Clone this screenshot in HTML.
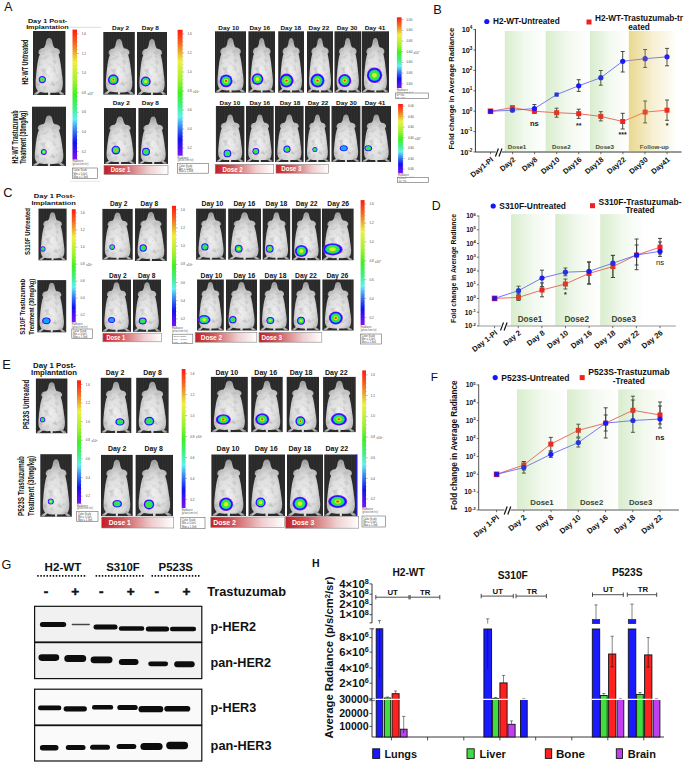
<!DOCTYPE html><html><head><meta charset="utf-8"><style>html,body{margin:0;padding:0;background:#fff;}svg{display:block;}text{font-family:"Liberation Sans",sans-serif;}</style></head><body><svg width="685" height="764" viewBox="0 0 685 764" font-family="Liberation Sans, sans-serif">
<defs>
<filter id="mb" x="-10%" y="-10%" width="120%" height="120%">
<feTurbulence type="fractalNoise" baseFrequency="0.07" numOctaves="2" seed="7" result="t"/>
<feColorMatrix in="t" type="matrix" values="0.4 0.4 0.4 0 0.38  0.4 0.4 0.4 0 0.38  0.4 0.4 0.4 0 0.38  0 0 0 0 1" result="g"/>
<feComposite in="SourceGraphic" in2="g" operator="arithmetic" k1="1" k2="0" k3="0" k4="0" result="m"/>
<feGaussianBlur in="m" stdDeviation="1.6"/></filter>
<filter id="bl" x="-30%" y="-30%" width="160%" height="160%"><feGaussianBlur stdDeviation="0.45"/></filter>
<filter id="bb" x="-10%" y="-60%" width="120%" height="220%"><feGaussianBlur stdDeviation="0.55"/></filter>
<pattern id="bgp" patternUnits="userSpaceOnUse" width="2.7" height="10"><rect width="2.7" height="10" fill="#282828"/><rect width="1.1" height="10" fill="#303030"/></pattern>
<radialGradient id="mg" cx="0.5" cy="0.62" r="0.62"><stop offset="0" stop-color="#f0f0f0"/><stop offset="0.55" stop-color="#dbdbdb"/><stop offset="0.85" stop-color="#b8b8b8"/><stop offset="1" stop-color="#9a9a9a"/></radialGradient>
<linearGradient id="cb" x1="0" y1="0" x2="0" y2="1">
<stop offset="0" stop-color="#ff1a10"/><stop offset="0.1" stop-color="#f86020"/><stop offset="0.18" stop-color="#e8b030"/><stop offset="0.25" stop-color="#f0f040"/>
<stop offset="0.4" stop-color="#a0f030"/><stop offset="0.5" stop-color="#40f020"/><stop offset="0.6" stop-color="#40f080"/><stop offset="0.69" stop-color="#60f0f0"/>
<stop offset="0.76" stop-color="#4090f0"/><stop offset="0.87" stop-color="#1010f0"/><stop offset="1" stop-color="#8010f0"/></linearGradient>
<linearGradient id="dg" x1="0" y1="0" x2="1" y2="0"><stop offset="0" stop-color="#c41e24"/><stop offset="0.3" stop-color="#d0585c"/><stop offset="0.7" stop-color="#efcfd0"/><stop offset="1" stop-color="#ffffff"/></linearGradient>
<linearGradient id="gz" x1="0" y1="0" x2="1" y2="0"><stop offset="0" stop-color="#6cb941" stop-opacity="0.26"/><stop offset="0.5" stop-color="#6cb941" stop-opacity="0.09"/><stop offset="1" stop-color="#6cb941" stop-opacity="0"/></linearGradient>
<linearGradient id="yz" x1="0" y1="0" x2="1" y2="0"><stop offset="0" stop-color="#d3b11d" stop-opacity="0.5"/><stop offset="0.5" stop-color="#d3b11d" stop-opacity="0.2"/><stop offset="1" stop-color="#d3b11d" stop-opacity="0.02"/></linearGradient>
</defs>
<rect width="685" height="764" fill="#ffffff"/>
<text x="4.3" y="11.3" font-size="12.2" font-weight="normal" text-anchor="start" fill="#111" >A</text>
<text x="47.6" y="22.5" font-size="5.8" font-weight="bold" text-anchor="middle" fill="#111" textLength="39.4" lengthAdjust="spacingAndGlyphs">Day 1 Post-</text>
<text x="47.4" y="28.8" font-size="5.8" font-weight="bold" text-anchor="middle" fill="#111" textLength="42.5" lengthAdjust="spacingAndGlyphs">Implantation</text>
<line x1="68" y1="27.3" x2="101" y2="27.3" stroke="#bbb" stroke-width="0.5"/>
<text transform="translate(27.8,62.0) rotate(-90)" font-size="8.4" font-weight="bold" text-anchor="middle" fill="#111" textLength="45" lengthAdjust="spacingAndGlyphs">H2-WT Untreated</text>
<text transform="translate(18.3,137.0) rotate(-90)" font-size="8.4" font-weight="bold" text-anchor="middle" fill="#111" textLength="53" lengthAdjust="spacingAndGlyphs">H2-WT Trastuzumab</text>
<text transform="translate(25.8,137.3) rotate(-90)" font-size="8.4" font-weight="bold" text-anchor="middle" fill="#111" textLength="53" lengthAdjust="spacingAndGlyphs">Treatment (30mg/kg)</text>
<rect x="33.0" y="31.0" width="32.4" height="64.0" fill="url(#bgp)"/><path d="M50 16 C56 16 59 22 60 30 C61 38 63 44 67 48 C76 48 84 54 83 62 C83 66 81 68 79 68 C84 86 87 108 89 130 C92 150 94 168 90 180 C89 184 87 187 85 188 L95 195 L96 199 L86 199 L78 191 C68 193 58 193 54 192 L53 200 L47 200 L46 192 C40 193 30 193 22 190 L12 199 L3 199 L5 194 L15 187 C12 183 8 176 8 165 C8 150 10 130 12 112 C14 95 16 80 21 68 C19 68 17 66 17 62 C17 54 24 48 33 48 C37 44 39 38 40 30 C41 22 44 16 50 16 Z" fill="url(#mg)" filter="url(#mb)" transform="translate(33.0,95.0) scale(0.3240,0.3096) translate(0,-200)"/><g filter="url(#bl)"><ellipse cx="42.3" cy="79.6" rx="3.60" ry="3.60" fill="#7010ff"/><ellipse cx="42.3" cy="79.6" rx="3.13" ry="3.13" fill="#1010ff"/><ellipse cx="42.3" cy="79.6" rx="2.66" ry="2.66" fill="#10a8ff"/><ellipse cx="42.3" cy="79.6" rx="2.34" ry="2.34" fill="#30e840"/><ellipse cx="42.3" cy="79.6" rx="1.15" ry="1.15" fill="#d8f020"/><ellipse cx="42.3" cy="79.6" rx="0.61" ry="0.61" fill="#ff3010"/></g>
<rect x="103.3" y="32.0" width="31.5" height="62.6" fill="url(#bgp)"/><path d="M50 16 C56 16 59 22 60 30 C61 38 63 44 67 48 C76 48 84 54 83 62 C83 66 81 68 79 68 C84 86 87 108 89 130 C92 150 94 168 90 180 C89 184 87 187 85 188 L95 195 L96 199 L86 199 L78 191 C68 193 58 193 54 192 L53 200 L47 200 L46 192 C40 193 30 193 22 190 L12 199 L3 199 L5 194 L15 187 C12 183 8 176 8 165 C8 150 10 130 12 112 C14 95 16 80 21 68 C19 68 17 66 17 62 C17 54 24 48 33 48 C37 44 39 38 40 30 C41 22 44 16 50 16 Z" fill="url(#mg)" filter="url(#mb)" transform="translate(103.3,94.6) scale(0.3150,0.3028) translate(0,-200)"/><g filter="url(#bl)"><ellipse cx="113.3" cy="79.7" rx="5.40" ry="5.40" fill="#7010ff"/><ellipse cx="113.3" cy="79.7" rx="4.70" ry="4.70" fill="#1010ff"/><ellipse cx="113.3" cy="79.7" rx="4.00" ry="4.00" fill="#10a8ff"/><ellipse cx="113.3" cy="79.7" rx="3.51" ry="3.51" fill="#30e840"/><ellipse cx="113.3" cy="79.7" rx="1.73" ry="1.73" fill="#d8f020"/><ellipse cx="113.3" cy="79.7" rx="0.92" ry="0.92" fill="#ff3010"/></g>
<rect x="137.0" y="32.0" width="30.0" height="63.0" fill="url(#bgp)"/><path d="M50 16 C56 16 59 22 60 30 C61 38 63 44 67 48 C76 48 84 54 83 62 C83 66 81 68 79 68 C84 86 87 108 89 130 C92 150 94 168 90 180 C89 184 87 187 85 188 L95 195 L96 199 L86 199 L78 191 C68 193 58 193 54 192 L53 200 L47 200 L46 192 C40 193 30 193 22 190 L12 199 L3 199 L5 194 L15 187 C12 183 8 176 8 165 C8 150 10 130 12 112 C14 95 16 80 21 68 C19 68 17 66 17 62 C17 54 24 48 33 48 C37 44 39 38 40 30 C41 22 44 16 50 16 Z" fill="url(#mg)" filter="url(#mb)" transform="translate(137.0,95.0) scale(0.3000,0.3047) translate(0,-200)"/><g filter="url(#bl)"><ellipse cx="145.7" cy="81.5" rx="5.00" ry="5.00" fill="#7010ff"/><ellipse cx="145.7" cy="81.5" rx="4.35" ry="4.35" fill="#1010ff"/><ellipse cx="145.7" cy="81.5" rx="3.70" ry="3.70" fill="#10a8ff"/><ellipse cx="145.7" cy="81.5" rx="3.25" ry="3.25" fill="#30e840"/><ellipse cx="145.7" cy="81.5" rx="1.60" ry="1.60" fill="#d8f020"/></g>
<rect x="215.0" y="31.3" width="31.0" height="61.3" fill="url(#bgp)"/><path d="M50 16 C56 16 59 22 60 30 C61 38 63 44 67 48 C76 48 84 54 83 62 C83 66 81 68 79 68 C84 86 87 108 89 130 C92 150 94 168 90 180 C89 184 87 187 85 188 L95 195 L96 199 L86 199 L78 191 C68 193 58 193 54 192 L53 200 L47 200 L46 192 C40 193 30 193 22 190 L12 199 L3 199 L5 194 L15 187 C12 183 8 176 8 165 C8 150 10 130 12 112 C14 95 16 80 21 68 C19 68 17 66 17 62 C17 54 24 48 33 48 C37 44 39 38 40 30 C41 22 44 16 50 16 Z" fill="url(#mg)" filter="url(#mb)" transform="translate(215.0,92.6) scale(0.3100,0.2965) translate(0,-200)"/><g filter="url(#bl)"><ellipse cx="226.1" cy="80.9" rx="6.40" ry="6.40" fill="#7010ff"/><ellipse cx="226.1" cy="80.9" rx="5.57" ry="5.57" fill="#1010ff"/><ellipse cx="226.1" cy="80.9" rx="4.74" ry="4.74" fill="#10a8ff"/><ellipse cx="226.1" cy="80.9" rx="4.16" ry="4.16" fill="#30e840"/><ellipse cx="226.1" cy="80.9" rx="2.05" ry="2.05" fill="#d8f020"/><ellipse cx="226.1" cy="80.9" rx="1.09" ry="1.09" fill="#ff3010"/></g>
<rect x="248.4" y="31.3" width="26.6" height="61.3" fill="url(#bgp)"/><path d="M50 16 C56 16 59 22 60 30 C61 38 63 44 67 48 C76 48 84 54 83 62 C83 66 81 68 79 68 C84 86 87 108 89 130 C92 150 94 168 90 180 C89 184 87 187 85 188 L95 195 L96 199 L86 199 L78 191 C68 193 58 193 54 192 L53 200 L47 200 L46 192 C40 193 30 193 22 190 L12 199 L3 199 L5 194 L15 187 C12 183 8 176 8 165 C8 150 10 130 12 112 C14 95 16 80 21 68 C19 68 17 66 17 62 C17 54 24 48 33 48 C37 44 39 38 40 30 C41 22 44 16 50 16 Z" fill="url(#mg)" filter="url(#mb)" transform="translate(248.4,92.6) scale(0.2660,0.2965) translate(0,-200)"/><g filter="url(#bl)"><ellipse cx="257.5" cy="79.1" rx="5.90" ry="5.90" fill="#7010ff"/><ellipse cx="257.5" cy="79.1" rx="5.13" ry="5.13" fill="#1010ff"/><ellipse cx="257.5" cy="79.1" rx="4.37" ry="4.37" fill="#10a8ff"/><ellipse cx="257.5" cy="79.1" rx="3.84" ry="3.84" fill="#30e840"/><ellipse cx="257.5" cy="79.1" rx="1.89" ry="1.89" fill="#d8f020"/></g>
<rect x="278.2" y="31.3" width="25.8" height="61.3" fill="url(#bgp)"/><path d="M50 16 C56 16 59 22 60 30 C61 38 63 44 67 48 C76 48 84 54 83 62 C83 66 81 68 79 68 C84 86 87 108 89 130 C92 150 94 168 90 180 C89 184 87 187 85 188 L95 195 L96 199 L86 199 L78 191 C68 193 58 193 54 192 L53 200 L47 200 L46 192 C40 193 30 193 22 190 L12 199 L3 199 L5 194 L15 187 C12 183 8 176 8 165 C8 150 10 130 12 112 C14 95 16 80 21 68 C19 68 17 66 17 62 C17 54 24 48 33 48 C37 44 39 38 40 30 C41 22 44 16 50 16 Z" fill="url(#mg)" filter="url(#mb)" transform="translate(278.2,92.6) scale(0.2580,0.2965) translate(0,-200)"/><g filter="url(#bl)"><ellipse cx="286.5" cy="80.6" rx="7.00" ry="7.00" fill="#7010ff"/><ellipse cx="286.5" cy="80.6" rx="6.09" ry="6.09" fill="#1010ff"/><ellipse cx="286.5" cy="80.6" rx="5.18" ry="5.18" fill="#10a8ff"/><ellipse cx="286.5" cy="80.6" rx="4.55" ry="4.55" fill="#30e840"/><ellipse cx="286.5" cy="80.6" rx="2.24" ry="2.24" fill="#d8f020"/><ellipse cx="286.5" cy="80.6" rx="1.19" ry="1.19" fill="#ff3010"/></g>
<rect x="307.0" y="31.3" width="26.0" height="61.3" fill="url(#bgp)"/><path d="M50 16 C56 16 59 22 60 30 C61 38 63 44 67 48 C76 48 84 54 83 62 C83 66 81 68 79 68 C84 86 87 108 89 130 C92 150 94 168 90 180 C89 184 87 187 85 188 L95 195 L96 199 L86 199 L78 191 C68 193 58 193 54 192 L53 200 L47 200 L46 192 C40 193 30 193 22 190 L12 199 L3 199 L5 194 L15 187 C12 183 8 176 8 165 C8 150 10 130 12 112 C14 95 16 80 21 68 C19 68 17 66 17 62 C17 54 24 48 33 48 C37 44 39 38 40 30 C41 22 44 16 50 16 Z" fill="url(#mg)" filter="url(#mb)" transform="translate(307.0,92.6) scale(0.2600,0.2965) translate(0,-200)"/><g filter="url(#bl)"><ellipse cx="317.5" cy="80.6" rx="7.00" ry="7.00" fill="#7010ff"/><ellipse cx="317.5" cy="80.6" rx="6.09" ry="6.09" fill="#1010ff"/><ellipse cx="317.5" cy="80.6" rx="5.18" ry="5.18" fill="#10a8ff"/><ellipse cx="317.5" cy="80.6" rx="4.55" ry="4.55" fill="#30e840"/><ellipse cx="317.5" cy="80.6" rx="2.24" ry="2.24" fill="#d8f020"/><ellipse cx="317.5" cy="80.6" rx="1.19" ry="1.19" fill="#ff3010"/></g>
<rect x="334.5" y="31.3" width="26.5" height="61.3" fill="url(#bgp)"/><path d="M50 16 C56 16 59 22 60 30 C61 38 63 44 67 48 C76 48 84 54 83 62 C83 66 81 68 79 68 C84 86 87 108 89 130 C92 150 94 168 90 180 C89 184 87 187 85 188 L95 195 L96 199 L86 199 L78 191 C68 193 58 193 54 192 L53 200 L47 200 L46 192 C40 193 30 193 22 190 L12 199 L3 199 L5 194 L15 187 C12 183 8 176 8 165 C8 150 10 130 12 112 C14 95 16 80 21 68 C19 68 17 66 17 62 C17 54 24 48 33 48 C37 44 39 38 40 30 C41 22 44 16 50 16 Z" fill="url(#mg)" filter="url(#mb)" transform="translate(334.5,92.6) scale(0.2650,0.2965) translate(0,-200)"/><g filter="url(#bl)"><ellipse cx="344.7" cy="80.6" rx="6.50" ry="6.50" fill="#7010ff"/><ellipse cx="344.7" cy="80.6" rx="5.66" ry="5.66" fill="#1010ff"/><ellipse cx="344.7" cy="80.6" rx="4.81" ry="4.81" fill="#10a8ff"/><ellipse cx="344.7" cy="80.6" rx="4.23" ry="4.23" fill="#30e840"/><ellipse cx="344.7" cy="80.6" rx="2.08" ry="2.08" fill="#d8f020"/><ellipse cx="344.7" cy="80.6" rx="1.10" ry="1.10" fill="#ff3010"/></g>
<rect x="361.7" y="31.3" width="27.3" height="61.3" fill="url(#bgp)"/><path d="M50 16 C56 16 59 22 60 30 C61 38 63 44 67 48 C76 48 84 54 83 62 C83 66 81 68 79 68 C84 86 87 108 89 130 C92 150 94 168 90 180 C89 184 87 187 85 188 L95 195 L96 199 L86 199 L78 191 C68 193 58 193 54 192 L53 200 L47 200 L46 192 C40 193 30 193 22 190 L12 199 L3 199 L5 194 L15 187 C12 183 8 176 8 165 C8 150 10 130 12 112 C14 95 16 80 21 68 C19 68 17 66 17 62 C17 54 24 48 33 48 C37 44 39 38 40 30 C41 22 44 16 50 16 Z" fill="url(#mg)" filter="url(#mb)" transform="translate(361.7,92.6) scale(0.2730,0.2965) translate(0,-200)"/><g filter="url(#bl)"><ellipse cx="374.5" cy="75.3" rx="7.70" ry="7.70" fill="#7010ff"/><ellipse cx="374.5" cy="75.3" rx="6.70" ry="6.70" fill="#1010ff"/><ellipse cx="374.5" cy="75.3" rx="5.70" ry="5.70" fill="#10a8ff"/><ellipse cx="374.5" cy="75.3" rx="5.00" ry="5.00" fill="#30e840"/><ellipse cx="374.5" cy="75.3" rx="2.46" ry="2.46" fill="#d8f020"/></g>
<rect x="32.0" y="106.7" width="34.0" height="59.3" fill="url(#bgp)"/><path d="M50 16 C56 16 59 22 60 30 C61 38 63 44 67 48 C76 48 84 54 83 62 C83 66 81 68 79 68 C84 86 87 108 89 130 C92 150 94 168 90 180 C89 184 87 187 85 188 L95 195 L96 199 L86 199 L78 191 C68 193 58 193 54 192 L53 200 L47 200 L46 192 C40 193 30 193 22 190 L12 199 L3 199 L5 194 L15 187 C12 183 8 176 8 165 C8 150 10 130 12 112 C14 95 16 80 21 68 C19 68 17 66 17 62 C17 54 24 48 33 48 C37 44 39 38 40 30 C41 22 44 16 50 16 Z" fill="url(#mg)" filter="url(#mb)" transform="translate(32.0,166.0) scale(0.3400,0.2739) translate(0,-200)"/><g filter="url(#bl)"><ellipse cx="43.8" cy="152.0" rx="2.90" ry="2.90" fill="#7010ff"/><ellipse cx="43.8" cy="152.0" rx="2.52" ry="2.52" fill="#1010ff"/><ellipse cx="43.8" cy="152.0" rx="2.15" ry="2.15" fill="#10a8ff"/><ellipse cx="43.8" cy="152.0" rx="1.89" ry="1.89" fill="#30e840"/><ellipse cx="43.8" cy="152.0" rx="0.93" ry="0.93" fill="#d8f020"/></g>
<rect x="104.0" y="108.0" width="32.0" height="56.0" fill="url(#bgp)"/><path d="M50 16 C56 16 59 22 60 30 C61 38 63 44 67 48 C76 48 84 54 83 62 C83 66 81 68 79 68 C84 86 87 108 89 130 C92 150 94 168 90 180 C89 184 87 187 85 188 L95 195 L96 199 L86 199 L78 191 C68 193 58 193 54 192 L53 200 L47 200 L46 192 C40 193 30 193 22 190 L12 199 L3 199 L5 194 L15 187 C12 183 8 176 8 165 C8 150 10 130 12 112 C14 95 16 80 21 68 C19 68 17 66 17 62 C17 54 24 48 33 48 C37 44 39 38 40 30 C41 22 44 16 50 16 Z" fill="url(#mg)" filter="url(#mb)" transform="translate(104.0,164.0) scale(0.3200,0.2587) translate(0,-200)"/><g filter="url(#bl)"><ellipse cx="115.9" cy="150.1" rx="4.40" ry="4.40" fill="#7010ff"/><ellipse cx="115.9" cy="150.1" rx="3.83" ry="3.83" fill="#1010ff"/><ellipse cx="115.9" cy="150.1" rx="3.26" ry="3.26" fill="#10a8ff"/><ellipse cx="115.9" cy="150.1" rx="2.86" ry="2.86" fill="#30e840"/><ellipse cx="115.9" cy="150.1" rx="1.41" ry="1.41" fill="#d8f020"/><ellipse cx="115.9" cy="150.1" rx="0.75" ry="0.75" fill="#ff3010"/></g>
<rect x="138.4" y="108.0" width="29.6" height="56.0" fill="url(#bgp)"/><path d="M50 16 C56 16 59 22 60 30 C61 38 63 44 67 48 C76 48 84 54 83 62 C83 66 81 68 79 68 C84 86 87 108 89 130 C92 150 94 168 90 180 C89 184 87 187 85 188 L95 195 L96 199 L86 199 L78 191 C68 193 58 193 54 192 L53 200 L47 200 L46 192 C40 193 30 193 22 190 L12 199 L3 199 L5 194 L15 187 C12 183 8 176 8 165 C8 150 10 130 12 112 C14 95 16 80 21 68 C19 68 17 66 17 62 C17 54 24 48 33 48 C37 44 39 38 40 30 C41 22 44 16 50 16 Z" fill="url(#mg)" filter="url(#mb)" transform="translate(138.4,164.0) scale(0.2960,0.2587) translate(0,-200)"/><g filter="url(#bl)"><ellipse cx="146.0" cy="151.7" rx="4.00" ry="4.00" fill="#7010ff"/><ellipse cx="146.0" cy="151.7" rx="3.48" ry="3.48" fill="#1010ff"/><ellipse cx="146.0" cy="151.7" rx="2.96" ry="2.96" fill="#10a8ff"/><ellipse cx="146.0" cy="151.7" rx="2.60" ry="2.60" fill="#30e840"/></g>
<rect x="215.9" y="106.0" width="28.5" height="56.0" fill="url(#bgp)"/><path d="M50 16 C56 16 59 22 60 30 C61 38 63 44 67 48 C76 48 84 54 83 62 C83 66 81 68 79 68 C84 86 87 108 89 130 C92 150 94 168 90 180 C89 184 87 187 85 188 L95 195 L96 199 L86 199 L78 191 C68 193 58 193 54 192 L53 200 L47 200 L46 192 C40 193 30 193 22 190 L12 199 L3 199 L5 194 L15 187 C12 183 8 176 8 165 C8 150 10 130 12 112 C14 95 16 80 21 68 C19 68 17 66 17 62 C17 54 24 48 33 48 C37 44 39 38 40 30 C41 22 44 16 50 16 Z" fill="url(#mg)" filter="url(#mb)" transform="translate(215.9,162.0) scale(0.2850,0.2587) translate(0,-200)"/><g filter="url(#bl)"><ellipse cx="227.4" cy="153.4" rx="3.90" ry="3.90" fill="#7010ff"/><ellipse cx="227.4" cy="153.4" rx="3.39" ry="3.39" fill="#1010ff"/><ellipse cx="227.4" cy="153.4" rx="2.89" ry="2.89" fill="#10a8ff"/><ellipse cx="227.4" cy="153.4" rx="2.54" ry="2.54" fill="#30e840"/></g>
<rect x="246.0" y="106.0" width="27.7" height="56.0" fill="url(#bgp)"/><path d="M50 16 C56 16 59 22 60 30 C61 38 63 44 67 48 C76 48 84 54 83 62 C83 66 81 68 79 68 C84 86 87 108 89 130 C92 150 94 168 90 180 C89 184 87 187 85 188 L95 195 L96 199 L86 199 L78 191 C68 193 58 193 54 192 L53 200 L47 200 L46 192 C40 193 30 193 22 190 L12 199 L3 199 L5 194 L15 187 C12 183 8 176 8 165 C8 150 10 130 12 112 C14 95 16 80 21 68 C19 68 17 66 17 62 C17 54 24 48 33 48 C37 44 39 38 40 30 C41 22 44 16 50 16 Z" fill="url(#mg)" filter="url(#mb)" transform="translate(246.0,162.0) scale(0.2770,0.2587) translate(0,-200)"/><g filter="url(#bl)"><ellipse cx="255.8" cy="151.3" rx="3.40" ry="3.40" fill="#7010ff"/><ellipse cx="255.8" cy="151.3" rx="2.96" ry="2.96" fill="#1010ff"/><ellipse cx="255.8" cy="151.3" rx="2.52" ry="2.52" fill="#10a8ff"/><ellipse cx="255.8" cy="151.3" rx="2.21" ry="2.21" fill="#30e840"/></g>
<rect x="275.0" y="106.0" width="28.6" height="56.0" fill="url(#bgp)"/><path d="M50 16 C56 16 59 22 60 30 C61 38 63 44 67 48 C76 48 84 54 83 62 C83 66 81 68 79 68 C84 86 87 108 89 130 C92 150 94 168 90 180 C89 184 87 187 85 188 L95 195 L96 199 L86 199 L78 191 C68 193 58 193 54 192 L53 200 L47 200 L46 192 C40 193 30 193 22 190 L12 199 L3 199 L5 194 L15 187 C12 183 8 176 8 165 C8 150 10 130 12 112 C14 95 16 80 21 68 C19 68 17 66 17 62 C17 54 24 48 33 48 C37 44 39 38 40 30 C41 22 44 16 50 16 Z" fill="url(#mg)" filter="url(#mb)" transform="translate(275.0,162.0) scale(0.2860,0.2587) translate(0,-200)"/><g filter="url(#bl)"><ellipse cx="287.0" cy="149.2" rx="3.60" ry="3.60" fill="#7010ff"/><ellipse cx="287.0" cy="149.2" rx="3.13" ry="3.13" fill="#1010ff"/><ellipse cx="287.0" cy="149.2" rx="2.66" ry="2.66" fill="#10a8ff"/><ellipse cx="287.0" cy="149.2" rx="2.34" ry="2.34" fill="#30e840"/></g>
<rect x="305.0" y="106.0" width="24.8" height="56.0" fill="url(#bgp)"/><path d="M50 16 C56 16 59 22 60 30 C61 38 63 44 67 48 C76 48 84 54 83 62 C83 66 81 68 79 68 C84 86 87 108 89 130 C92 150 94 168 90 180 C89 184 87 187 85 188 L95 195 L96 199 L86 199 L78 191 C68 193 58 193 54 192 L53 200 L47 200 L46 192 C40 193 30 193 22 190 L12 199 L3 199 L5 194 L15 187 C12 183 8 176 8 165 C8 150 10 130 12 112 C14 95 16 80 21 68 C19 68 17 66 17 62 C17 54 24 48 33 48 C37 44 39 38 40 30 C41 22 44 16 50 16 Z" fill="url(#mg)" filter="url(#mb)" transform="translate(305.0,162.0) scale(0.2480,0.2587) translate(0,-200)"/><g filter="url(#bl)"><ellipse cx="314.9" cy="149.6" rx="2.50" ry="2.50" fill="#7010ff"/><ellipse cx="314.9" cy="149.6" rx="2.17" ry="2.17" fill="#1010ff"/><ellipse cx="314.9" cy="149.6" rx="1.85" ry="1.85" fill="#10a8ff"/><ellipse cx="314.9" cy="149.6" rx="1.62" ry="1.62" fill="#30e840"/></g>
<rect x="331.5" y="106.0" width="28.9" height="56.0" fill="url(#bgp)"/><path d="M50 16 C56 16 59 22 60 30 C61 38 63 44 67 48 C76 48 84 54 83 62 C83 66 81 68 79 68 C84 86 87 108 89 130 C92 150 94 168 90 180 C89 184 87 187 85 188 L95 195 L96 199 L86 199 L78 191 C68 193 58 193 54 192 L53 200 L47 200 L46 192 C40 193 30 193 22 190 L12 199 L3 199 L5 194 L15 187 C12 183 8 176 8 165 C8 150 10 130 12 112 C14 95 16 80 21 68 C19 68 17 66 17 62 C17 54 24 48 33 48 C37 44 39 38 40 30 C41 22 44 16 50 16 Z" fill="url(#mg)" filter="url(#mb)" transform="translate(331.5,162.0) scale(0.2890,0.2587) translate(0,-200)"/><g filter="url(#bl)"><ellipse cx="343.8" cy="148.3" rx="4.00" ry="3.00" fill="#7010ff"/><ellipse cx="343.8" cy="148.3" rx="3.48" ry="2.61" fill="#1010ff"/><ellipse cx="343.8" cy="148.3" rx="2.96" ry="2.22" fill="#10a8ff"/></g>
<rect x="361.7" y="106.0" width="29.3" height="56.0" fill="url(#bgp)"/><path d="M50 16 C56 16 59 22 60 30 C61 38 63 44 67 48 C76 48 84 54 83 62 C83 66 81 68 79 68 C84 86 87 108 89 130 C92 150 94 168 90 180 C89 184 87 187 85 188 L95 195 L96 199 L86 199 L78 191 C68 193 58 193 54 192 L53 200 L47 200 L46 192 C40 193 30 193 22 190 L12 199 L3 199 L5 194 L15 187 C12 183 8 176 8 165 C8 150 10 130 12 112 C14 95 16 80 21 68 C19 68 17 66 17 62 C17 54 24 48 33 48 C37 44 39 38 40 30 C41 22 44 16 50 16 Z" fill="url(#mg)" filter="url(#mb)" transform="translate(361.7,162.0) scale(0.2930,0.2587) translate(0,-200)"/><g filter="url(#bl)"><ellipse cx="368.3" cy="148.3" rx="3.80" ry="3.00" fill="#7010ff"/><ellipse cx="368.3" cy="148.3" rx="3.31" ry="2.61" fill="#1010ff"/><ellipse cx="368.3" cy="148.3" rx="2.81" ry="2.22" fill="#10a8ff"/><ellipse cx="368.3" cy="148.3" rx="2.47" ry="1.95" fill="#30e840"/></g>
<text x="120.6" y="29.5" font-size="5.6" font-weight="bold" text-anchor="middle" fill="#111" textLength="17.1" lengthAdjust="spacingAndGlyphs">Day 2</text>
<text x="150.4" y="29.5" font-size="5.6" font-weight="bold" text-anchor="middle" fill="#111" textLength="17.1" lengthAdjust="spacingAndGlyphs">Day 8</text>
<text x="228.7" y="29.5" font-size="5.6" font-weight="bold" text-anchor="middle" fill="#111" textLength="20.7" lengthAdjust="spacingAndGlyphs">Day 10</text>
<text x="259.8" y="29.5" font-size="5.6" font-weight="bold" text-anchor="middle" fill="#111" textLength="20.7" lengthAdjust="spacingAndGlyphs">Day 16</text>
<text x="290.8" y="29.5" font-size="5.6" font-weight="bold" text-anchor="middle" fill="#111" textLength="20.7" lengthAdjust="spacingAndGlyphs">Day 18</text>
<text x="318.9" y="29.5" font-size="5.6" font-weight="bold" text-anchor="middle" fill="#111" textLength="20.7" lengthAdjust="spacingAndGlyphs">Day 22</text>
<text x="347.0" y="29.5" font-size="5.6" font-weight="bold" text-anchor="middle" fill="#111" textLength="20.7" lengthAdjust="spacingAndGlyphs">Day 30</text>
<text x="375.0" y="29.5" font-size="5.6" font-weight="bold" text-anchor="middle" fill="#111" textLength="20.7" lengthAdjust="spacingAndGlyphs">Day 41</text>
<text x="121.2" y="105.2" font-size="5.6" font-weight="bold" text-anchor="middle" fill="#111" textLength="17.1" lengthAdjust="spacingAndGlyphs">Day 2</text>
<text x="150.4" y="105.2" font-size="5.6" font-weight="bold" text-anchor="middle" fill="#111" textLength="17.1" lengthAdjust="spacingAndGlyphs">Day 8</text>
<text x="229.9" y="105.2" font-size="5.6" font-weight="bold" text-anchor="middle" fill="#111" textLength="20.7" lengthAdjust="spacingAndGlyphs">Day 10</text>
<text x="259.8" y="105.2" font-size="5.6" font-weight="bold" text-anchor="middle" fill="#111" textLength="20.7" lengthAdjust="spacingAndGlyphs">Day 16</text>
<text x="290.0" y="105.2" font-size="5.6" font-weight="bold" text-anchor="middle" fill="#111" textLength="20.7" lengthAdjust="spacingAndGlyphs">Day 18</text>
<text x="318.0" y="105.2" font-size="5.6" font-weight="bold" text-anchor="middle" fill="#111" textLength="20.7" lengthAdjust="spacingAndGlyphs">Day 22</text>
<text x="346.4" y="105.2" font-size="5.6" font-weight="bold" text-anchor="middle" fill="#111" textLength="20.7" lengthAdjust="spacingAndGlyphs">Day 30</text>
<text x="375.0" y="105.2" font-size="5.6" font-weight="bold" text-anchor="middle" fill="#111" textLength="20.7" lengthAdjust="spacingAndGlyphs">Day 41</text>
<rect x="72.5" y="29.6" width="4.5" height="129.9" fill="url(#cb)"/><line x1="77" y1="33.9" x2="78.6" y2="33.9" stroke="#555" stroke-width="0.45"/><text x="81.8" y="35.0" font-size="3" fill="#444">1.6</text><line x1="77" y1="37.8" x2="78" y2="37.8" stroke="#888" stroke-width="0.35"/><line x1="77" y1="41.7" x2="78" y2="41.7" stroke="#888" stroke-width="0.35"/><line x1="77" y1="45.7" x2="78" y2="45.7" stroke="#888" stroke-width="0.35"/><line x1="77" y1="49.6" x2="78" y2="49.6" stroke="#888" stroke-width="0.35"/><line x1="77" y1="53.5" x2="78.6" y2="53.5" stroke="#555" stroke-width="0.45"/><text x="81.8" y="54.6" font-size="3" fill="#444">1.2</text><line x1="77" y1="57.4" x2="78" y2="57.4" stroke="#888" stroke-width="0.35"/><line x1="77" y1="61.3" x2="78" y2="61.3" stroke="#888" stroke-width="0.35"/><line x1="77" y1="65.3" x2="78" y2="65.3" stroke="#888" stroke-width="0.35"/><line x1="77" y1="69.2" x2="78" y2="69.2" stroke="#888" stroke-width="0.35"/><line x1="77" y1="73.1" x2="78.6" y2="73.1" stroke="#555" stroke-width="0.45"/><text x="81.8" y="74.2" font-size="3" fill="#444">1.0</text><line x1="77" y1="77.0" x2="78" y2="77.0" stroke="#888" stroke-width="0.35"/><line x1="77" y1="81.0" x2="78" y2="81.0" stroke="#888" stroke-width="0.35"/><line x1="77" y1="84.9" x2="78" y2="84.9" stroke="#888" stroke-width="0.35"/><line x1="77" y1="88.8" x2="78" y2="88.8" stroke="#888" stroke-width="0.35"/><line x1="77" y1="92.7" x2="78.6" y2="92.7" stroke="#555" stroke-width="0.45"/><text x="81.8" y="93.8" font-size="3" fill="#444">0.8</text><line x1="77" y1="96.7" x2="78" y2="96.7" stroke="#888" stroke-width="0.35"/><line x1="77" y1="100.6" x2="78" y2="100.6" stroke="#888" stroke-width="0.35"/><line x1="77" y1="104.5" x2="78" y2="104.5" stroke="#888" stroke-width="0.35"/><line x1="77" y1="108.4" x2="78" y2="108.4" stroke="#888" stroke-width="0.35"/><line x1="77" y1="112.3" x2="78.6" y2="112.3" stroke="#555" stroke-width="0.45"/><text x="81.8" y="113.4" font-size="3" fill="#444">0.6</text><line x1="77" y1="116.3" x2="78" y2="116.3" stroke="#888" stroke-width="0.35"/><line x1="77" y1="120.2" x2="78" y2="120.2" stroke="#888" stroke-width="0.35"/><line x1="77" y1="124.1" x2="78" y2="124.1" stroke="#888" stroke-width="0.35"/><line x1="77" y1="128.0" x2="78" y2="128.0" stroke="#888" stroke-width="0.35"/><line x1="77" y1="132.0" x2="78.6" y2="132.0" stroke="#555" stroke-width="0.45"/><text x="81.8" y="133.1" font-size="3" fill="#444">0.4</text><line x1="77" y1="135.9" x2="78" y2="135.9" stroke="#888" stroke-width="0.35"/><line x1="77" y1="139.8" x2="78" y2="139.8" stroke="#888" stroke-width="0.35"/><line x1="77" y1="143.7" x2="78" y2="143.7" stroke="#888" stroke-width="0.35"/><line x1="77" y1="147.7" x2="78" y2="147.7" stroke="#888" stroke-width="0.35"/><line x1="77" y1="151.6" x2="78.6" y2="151.6" stroke="#555" stroke-width="0.45"/><text x="81.8" y="152.7" font-size="3" fill="#444">0.2</text><line x1="77" y1="155.5" x2="78" y2="155.5" stroke="#888" stroke-width="0.35"/><line x1="77" y1="159.4" x2="78" y2="159.4" stroke="#888" stroke-width="0.35"/><text x="87.5" y="94.5" font-size="3" fill="#444">x10<tspan dy="-1.2" font-size="2.2">7</tspan></text><text x="72.5" y="162.4" font-size="2.6" fill="#555">Radiance</text><text x="72.5" y="165.1" font-size="2.6" fill="#555">(p/sec/cm²/sr)</text><rect x="72.3" y="168" width="25.2" height="10.5" fill="#fff" stroke="#666" stroke-width="0.6"/><text x="73.5" y="171.4" font-size="2.6" fill="#444">Color Scale</text><text x="73.5" y="174.5" font-size="2.6" fill="#444">Min = 5.0e5</text><text x="73.5" y="177.7" font-size="2.6" fill="#444">Max = 1.3e6</text>
<rect x="177.6" y="29.8" width="5.0" height="125.9" fill="url(#cb)"/><line x1="182.6" y1="34.0" x2="184.2" y2="34.0" stroke="#555" stroke-width="0.45"/><text x="187.4" y="35.1" font-size="3" fill="#444">1.6</text><line x1="182.6" y1="37.8" x2="183.6" y2="37.8" stroke="#888" stroke-width="0.35"/><line x1="182.6" y1="41.6" x2="183.6" y2="41.6" stroke="#888" stroke-width="0.35"/><line x1="182.6" y1="45.4" x2="183.6" y2="45.4" stroke="#888" stroke-width="0.35"/><line x1="182.6" y1="49.2" x2="183.6" y2="49.2" stroke="#888" stroke-width="0.35"/><line x1="182.6" y1="53.0" x2="184.2" y2="53.0" stroke="#555" stroke-width="0.45"/><text x="187.4" y="54.1" font-size="3" fill="#444">1.2</text><line x1="182.6" y1="56.8" x2="183.6" y2="56.8" stroke="#888" stroke-width="0.35"/><line x1="182.6" y1="60.6" x2="183.6" y2="60.6" stroke="#888" stroke-width="0.35"/><line x1="182.6" y1="64.4" x2="183.6" y2="64.4" stroke="#888" stroke-width="0.35"/><line x1="182.6" y1="68.2" x2="183.6" y2="68.2" stroke="#888" stroke-width="0.35"/><line x1="182.6" y1="72.0" x2="184.2" y2="72.0" stroke="#555" stroke-width="0.45"/><text x="187.4" y="73.1" font-size="3" fill="#444">1.0</text><line x1="182.6" y1="75.8" x2="183.6" y2="75.8" stroke="#888" stroke-width="0.35"/><line x1="182.6" y1="79.6" x2="183.6" y2="79.6" stroke="#888" stroke-width="0.35"/><line x1="182.6" y1="83.4" x2="183.6" y2="83.4" stroke="#888" stroke-width="0.35"/><line x1="182.6" y1="87.2" x2="183.6" y2="87.2" stroke="#888" stroke-width="0.35"/><line x1="182.6" y1="91.0" x2="184.2" y2="91.0" stroke="#555" stroke-width="0.45"/><text x="187.4" y="92.1" font-size="3" fill="#444">0.8</text><line x1="182.6" y1="94.8" x2="183.6" y2="94.8" stroke="#888" stroke-width="0.35"/><line x1="182.6" y1="98.6" x2="183.6" y2="98.6" stroke="#888" stroke-width="0.35"/><line x1="182.6" y1="102.4" x2="183.6" y2="102.4" stroke="#888" stroke-width="0.35"/><line x1="182.6" y1="106.2" x2="183.6" y2="106.2" stroke="#888" stroke-width="0.35"/><line x1="182.6" y1="110.0" x2="184.2" y2="110.0" stroke="#555" stroke-width="0.45"/><text x="187.4" y="111.1" font-size="3" fill="#444">0.6</text><line x1="182.6" y1="113.8" x2="183.6" y2="113.8" stroke="#888" stroke-width="0.35"/><line x1="182.6" y1="117.6" x2="183.6" y2="117.6" stroke="#888" stroke-width="0.35"/><line x1="182.6" y1="121.4" x2="183.6" y2="121.4" stroke="#888" stroke-width="0.35"/><line x1="182.6" y1="125.2" x2="183.6" y2="125.2" stroke="#888" stroke-width="0.35"/><line x1="182.6" y1="129.0" x2="184.2" y2="129.0" stroke="#555" stroke-width="0.45"/><text x="187.4" y="130.1" font-size="3" fill="#444">0.4</text><line x1="182.6" y1="132.8" x2="183.6" y2="132.8" stroke="#888" stroke-width="0.35"/><line x1="182.6" y1="136.6" x2="183.6" y2="136.6" stroke="#888" stroke-width="0.35"/><line x1="182.6" y1="140.4" x2="183.6" y2="140.4" stroke="#888" stroke-width="0.35"/><line x1="182.6" y1="144.2" x2="183.6" y2="144.2" stroke="#888" stroke-width="0.35"/><line x1="182.6" y1="148.0" x2="184.2" y2="148.0" stroke="#555" stroke-width="0.45"/><text x="187.4" y="149.1" font-size="3" fill="#444">0.2</text><line x1="182.6" y1="151.8" x2="183.6" y2="151.8" stroke="#888" stroke-width="0.35"/><line x1="182.6" y1="155.6" x2="183.6" y2="155.6" stroke="#888" stroke-width="0.35"/><text x="193.1" y="92.8" font-size="3" fill="#444">x10<tspan dy="-1.2" font-size="2.2">7</tspan></text><text x="177.6" y="158.6" font-size="2.6" fill="#555">Radiance</text><text x="177.6" y="161.3" font-size="2.6" fill="#555">(p/sec/cm²/sr)</text><rect x="177.6" y="163.6" width="31.0" height="9.6" fill="#fff" stroke="#666" stroke-width="0.6"/><text x="178.79999999999998" y="166.7" font-size="2.6" fill="#444">Color Scale</text><text x="178.79999999999998" y="169.6" font-size="2.6" fill="#444">Min = 5.0e5</text><text x="178.79999999999998" y="172.4" font-size="2.6" fill="#444">Max = 1.3e6</text>
<rect x="396.9" y="17.3" width="4.7" height="70.7" fill="url(#cb)"/><line x1="401.6" y1="19.6" x2="403.20000000000005" y2="19.6" stroke="#555" stroke-width="0.45"/><text x="406.6" y="20.7" font-size="3" fill="#444">0.00</text><line x1="401.6" y1="21.8" x2="402.6" y2="21.8" stroke="#888" stroke-width="0.35"/><line x1="401.6" y1="23.9" x2="402.6" y2="23.9" stroke="#888" stroke-width="0.35"/><line x1="401.6" y1="26.0" x2="402.6" y2="26.0" stroke="#888" stroke-width="0.35"/><line x1="401.6" y1="28.2" x2="402.6" y2="28.2" stroke="#888" stroke-width="0.35"/><line x1="401.6" y1="30.3" x2="403.20000000000005" y2="30.3" stroke="#555" stroke-width="0.45"/><text x="406.6" y="31.4" font-size="3" fill="#444">0.60</text><line x1="401.6" y1="32.4" x2="402.6" y2="32.4" stroke="#888" stroke-width="0.35"/><line x1="401.6" y1="34.6" x2="402.6" y2="34.6" stroke="#888" stroke-width="0.35"/><line x1="401.6" y1="36.7" x2="402.6" y2="36.7" stroke="#888" stroke-width="0.35"/><line x1="401.6" y1="38.8" x2="402.6" y2="38.8" stroke="#888" stroke-width="0.35"/><line x1="401.6" y1="41.0" x2="403.20000000000005" y2="41.0" stroke="#555" stroke-width="0.45"/><text x="406.6" y="42.1" font-size="3" fill="#444">0.60</text><line x1="401.6" y1="43.1" x2="402.6" y2="43.1" stroke="#888" stroke-width="0.35"/><line x1="401.6" y1="45.3" x2="402.6" y2="45.3" stroke="#888" stroke-width="0.35"/><line x1="401.6" y1="47.4" x2="402.6" y2="47.4" stroke="#888" stroke-width="0.35"/><line x1="401.6" y1="49.5" x2="402.6" y2="49.5" stroke="#888" stroke-width="0.35"/><line x1="401.6" y1="51.7" x2="403.20000000000005" y2="51.7" stroke="#555" stroke-width="0.45"/><text x="406.6" y="52.8" font-size="3" fill="#444">0.60</text><line x1="401.6" y1="53.8" x2="402.6" y2="53.8" stroke="#888" stroke-width="0.35"/><line x1="401.6" y1="55.9" x2="402.6" y2="55.9" stroke="#888" stroke-width="0.35"/><line x1="401.6" y1="58.1" x2="402.6" y2="58.1" stroke="#888" stroke-width="0.35"/><line x1="401.6" y1="60.2" x2="402.6" y2="60.2" stroke="#888" stroke-width="0.35"/><line x1="401.6" y1="62.3" x2="403.20000000000005" y2="62.3" stroke="#555" stroke-width="0.45"/><text x="406.6" y="63.4" font-size="3" fill="#444">0.60</text><line x1="401.6" y1="64.5" x2="402.6" y2="64.5" stroke="#888" stroke-width="0.35"/><line x1="401.6" y1="66.6" x2="402.6" y2="66.6" stroke="#888" stroke-width="0.35"/><line x1="401.6" y1="68.7" x2="402.6" y2="68.7" stroke="#888" stroke-width="0.35"/><line x1="401.6" y1="70.9" x2="402.6" y2="70.9" stroke="#888" stroke-width="0.35"/><line x1="401.6" y1="73.0" x2="403.20000000000005" y2="73.0" stroke="#555" stroke-width="0.45"/><text x="406.6" y="74.1" font-size="3" fill="#444">0.60</text><line x1="401.6" y1="75.1" x2="402.6" y2="75.1" stroke="#888" stroke-width="0.35"/><line x1="401.6" y1="77.3" x2="402.6" y2="77.3" stroke="#888" stroke-width="0.35"/><line x1="401.6" y1="79.4" x2="402.6" y2="79.4" stroke="#888" stroke-width="0.35"/><line x1="401.6" y1="81.6" x2="402.6" y2="81.6" stroke="#888" stroke-width="0.35"/><line x1="401.6" y1="83.7" x2="403.20000000000005" y2="83.7" stroke="#555" stroke-width="0.45"/><text x="406.6" y="84.8" font-size="3" fill="#444">0.60</text><line x1="401.6" y1="85.8" x2="402.6" y2="85.8" stroke="#888" stroke-width="0.35"/><line x1="401.6" y1="88.0" x2="402.6" y2="88.0" stroke="#888" stroke-width="0.35"/><text x="413.6" y="53.5" font-size="3" fill="#444">x10<tspan dy="-1.2" font-size="2.2">7</tspan></text><text x="396.9" y="90.9" font-size="2.6" fill="#555">Radiance</text><text x="396.9" y="93.6" font-size="2.6" fill="#555">(p/sec/cm²/sr)</text><rect x="395.3" y="93" width="33.3" height="5.3" fill="#fff" stroke="#666" stroke-width="0.6"/><text x="396.5" y="94.7" font-size="1.5" fill="#444">Color Scale</text><text x="396.5" y="96.3" font-size="1.5" fill="#444">Min = 5.0e5</text><text x="396.5" y="97.9" font-size="1.5" fill="#444">Max = 1.3e6</text>
<rect x="398.1" y="104" width="4.8" height="69.3" fill="url(#cb)"/><line x1="402.9" y1="106.3" x2="404.5" y2="106.3" stroke="#555" stroke-width="0.45"/><text x="407.9" y="107.4" font-size="3" fill="#444">0.00</text><line x1="402.9" y1="108.4" x2="403.9" y2="108.4" stroke="#888" stroke-width="0.35"/><line x1="402.9" y1="110.5" x2="403.9" y2="110.5" stroke="#888" stroke-width="0.35"/><line x1="402.9" y1="112.6" x2="403.9" y2="112.6" stroke="#888" stroke-width="0.35"/><line x1="402.9" y1="114.7" x2="403.9" y2="114.7" stroke="#888" stroke-width="0.35"/><line x1="402.9" y1="116.8" x2="404.5" y2="116.8" stroke="#555" stroke-width="0.45"/><text x="407.9" y="117.9" font-size="3" fill="#444">0.60</text><line x1="402.9" y1="118.8" x2="403.9" y2="118.8" stroke="#888" stroke-width="0.35"/><line x1="402.9" y1="120.9" x2="403.9" y2="120.9" stroke="#888" stroke-width="0.35"/><line x1="402.9" y1="123.0" x2="403.9" y2="123.0" stroke="#888" stroke-width="0.35"/><line x1="402.9" y1="125.1" x2="403.9" y2="125.1" stroke="#888" stroke-width="0.35"/><line x1="402.9" y1="127.2" x2="404.5" y2="127.2" stroke="#555" stroke-width="0.45"/><text x="407.9" y="128.3" font-size="3" fill="#444">0.60</text><line x1="402.9" y1="129.3" x2="403.9" y2="129.3" stroke="#888" stroke-width="0.35"/><line x1="402.9" y1="131.4" x2="403.9" y2="131.4" stroke="#888" stroke-width="0.35"/><line x1="402.9" y1="133.5" x2="403.9" y2="133.5" stroke="#888" stroke-width="0.35"/><line x1="402.9" y1="135.6" x2="403.9" y2="135.6" stroke="#888" stroke-width="0.35"/><line x1="402.9" y1="137.7" x2="404.5" y2="137.7" stroke="#555" stroke-width="0.45"/><text x="407.9" y="138.8" font-size="3" fill="#444">0.60</text><line x1="402.9" y1="139.8" x2="403.9" y2="139.8" stroke="#888" stroke-width="0.35"/><line x1="402.9" y1="141.9" x2="403.9" y2="141.9" stroke="#888" stroke-width="0.35"/><line x1="402.9" y1="144.0" x2="403.9" y2="144.0" stroke="#888" stroke-width="0.35"/><line x1="402.9" y1="146.1" x2="403.9" y2="146.1" stroke="#888" stroke-width="0.35"/><line x1="402.9" y1="148.1" x2="404.5" y2="148.1" stroke="#555" stroke-width="0.45"/><text x="407.9" y="149.2" font-size="3" fill="#444">0.60</text><line x1="402.9" y1="150.2" x2="403.9" y2="150.2" stroke="#888" stroke-width="0.35"/><line x1="402.9" y1="152.3" x2="403.9" y2="152.3" stroke="#888" stroke-width="0.35"/><line x1="402.9" y1="154.4" x2="403.9" y2="154.4" stroke="#888" stroke-width="0.35"/><line x1="402.9" y1="156.5" x2="403.9" y2="156.5" stroke="#888" stroke-width="0.35"/><line x1="402.9" y1="158.6" x2="404.5" y2="158.6" stroke="#555" stroke-width="0.45"/><text x="407.9" y="159.7" font-size="3" fill="#444">0.60</text><line x1="402.9" y1="160.7" x2="403.9" y2="160.7" stroke="#888" stroke-width="0.35"/><line x1="402.9" y1="162.8" x2="403.9" y2="162.8" stroke="#888" stroke-width="0.35"/><line x1="402.9" y1="164.9" x2="403.9" y2="164.9" stroke="#888" stroke-width="0.35"/><line x1="402.9" y1="167.0" x2="403.9" y2="167.0" stroke="#888" stroke-width="0.35"/><line x1="402.9" y1="169.1" x2="404.5" y2="169.1" stroke="#555" stroke-width="0.45"/><text x="407.9" y="170.2" font-size="3" fill="#444">0.60</text><line x1="402.9" y1="171.2" x2="403.9" y2="171.2" stroke="#888" stroke-width="0.35"/><line x1="402.9" y1="173.3" x2="403.9" y2="173.3" stroke="#888" stroke-width="0.35"/><text x="414.9" y="139.5" font-size="3" fill="#444">x10<tspan dy="-1.2" font-size="2.2">7</tspan></text><text x="398.1" y="176.2" font-size="2.6" fill="#555">Radiance</text><text x="398.1" y="178.9" font-size="2.6" fill="#555">(p/sec/cm²/sr)</text><rect x="397.6" y="177.4" width="31.0" height="5.1" fill="#fff" stroke="#666" stroke-width="0.6"/><text x="398.8" y="179.0" font-size="1.4" fill="#444">Color Scale</text><text x="398.8" y="180.6" font-size="1.4" fill="#444">Min = 5.0e5</text><text x="398.8" y="182.1" font-size="1.4" fill="#444">Max = 1.3e6</text>
<line x1="70" y1="181.3" x2="100.7" y2="181.3" stroke="#ccc" stroke-width="0.5"/>
<rect x="104" y="165.3" width="64" height="9.099999999999994" fill="url(#dg)" stroke="#8a8a8a" stroke-width="0.6"/><text x="110.7" y="172.4" font-size="7" font-weight="bold" fill="#ffffff" textLength="19.6" lengthAdjust="spacingAndGlyphs">Dose 1</text>
<rect x="215.2" y="164.3" width="58.5" height="9.399999999999977" fill="url(#dg)" stroke="#8a8a8a" stroke-width="0.6"/><text x="222.5" y="171.5" font-size="7" font-weight="bold" fill="#ffffff" textLength="20.2" lengthAdjust="spacingAndGlyphs">Dose 2</text>
<rect x="276" y="164.5" width="52.60000000000002" height="8.699999999999989" fill="url(#dg)" stroke="#8a8a8a" stroke-width="0.6"/><text x="281.2" y="171.3" font-size="7" font-weight="bold" fill="#ffffff" textLength="20.2" lengthAdjust="spacingAndGlyphs">Dose 3</text>
<text x="3.2" y="196.6" font-size="12.8" font-weight="normal" text-anchor="start" fill="#111" >C</text>
<text x="54.3" y="197.9" font-size="6.2" font-weight="bold" text-anchor="middle" fill="#111" textLength="41" lengthAdjust="spacingAndGlyphs">Day 1 Post-</text>
<text x="53.7" y="205.1" font-size="6.2" font-weight="bold" text-anchor="middle" fill="#111" textLength="44.5" lengthAdjust="spacingAndGlyphs">Implantation</text>
<text transform="translate(29.9,231.6) rotate(-90)" font-size="6.96" font-weight="bold" text-anchor="middle" fill="#111" textLength="46.8" lengthAdjust="spacingAndGlyphs">S310F Untreated</text>
<text transform="translate(24.9,306.7) rotate(-90)" font-size="6.96" font-weight="bold" text-anchor="middle" fill="#111" textLength="55.9" lengthAdjust="spacingAndGlyphs">S310F Trastuzumab</text>
<text transform="translate(33.8,306.7) rotate(-90)" font-size="6.96" font-weight="bold" text-anchor="middle" fill="#111" textLength="55.9" lengthAdjust="spacingAndGlyphs">Treatment (30mg/kg)</text>
<rect x="38.5" y="208.6" width="28.1" height="51.7" fill="url(#bgp)"/><path d="M50 16 C56 16 59 22 60 30 C61 38 63 44 67 48 C76 48 84 54 83 62 C83 66 81 68 79 68 C84 86 87 108 89 130 C92 150 94 168 90 180 C89 184 87 187 85 188 L95 195 L96 199 L86 199 L78 191 C68 193 58 193 54 192 L53 200 L47 200 L46 192 C40 193 30 193 22 190 L12 199 L3 199 L5 194 L15 187 C12 183 8 176 8 165 C8 150 10 130 12 112 C14 95 16 80 21 68 C19 68 17 66 17 62 C17 54 24 48 33 48 C37 44 39 38 40 30 C41 22 44 16 50 16 Z" fill="url(#mg)" filter="url(#mb)" transform="translate(38.5,260.3) scale(0.2810,0.2613) translate(0,-200)"/><g filter="url(#bl)"><ellipse cx="42.9" cy="248.9" rx="2.60" ry="2.60" fill="#7010ff"/><ellipse cx="42.9" cy="248.9" rx="2.26" ry="2.26" fill="#1010ff"/><ellipse cx="42.9" cy="248.9" rx="1.92" ry="1.92" fill="#10a8ff"/><ellipse cx="42.9" cy="248.9" rx="1.69" ry="1.69" fill="#30e840"/></g>
<rect x="102.4" y="208.9" width="30.3" height="50.8" fill="url(#bgp)"/><path d="M50 16 C56 16 59 22 60 30 C61 38 63 44 67 48 C76 48 84 54 83 62 C83 66 81 68 79 68 C84 86 87 108 89 130 C92 150 94 168 90 180 C89 184 87 187 85 188 L95 195 L96 199 L86 199 L78 191 C68 193 58 193 54 192 L53 200 L47 200 L46 192 C40 193 30 193 22 190 L12 199 L3 199 L5 194 L15 187 C12 183 8 176 8 165 C8 150 10 130 12 112 C14 95 16 80 21 68 C19 68 17 66 17 62 C17 54 24 48 33 48 C37 44 39 38 40 30 C41 22 44 16 50 16 Z" fill="url(#mg)" filter="url(#mb)" transform="translate(102.4,259.7) scale(0.3030,0.2568) translate(0,-200)"/><g filter="url(#bl)"><ellipse cx="112.2" cy="247.1" rx="2.80" ry="2.80" fill="#7010ff"/><ellipse cx="112.2" cy="247.1" rx="2.44" ry="2.44" fill="#1010ff"/><ellipse cx="112.2" cy="247.1" rx="2.07" ry="2.07" fill="#10a8ff"/><ellipse cx="112.2" cy="247.1" rx="1.82" ry="1.82" fill="#30e840"/></g>
<rect x="135.0" y="208.4" width="31.8" height="52.6" fill="url(#bgp)"/><path d="M50 16 C56 16 59 22 60 30 C61 38 63 44 67 48 C76 48 84 54 83 62 C83 66 81 68 79 68 C84 86 87 108 89 130 C92 150 94 168 90 180 C89 184 87 187 85 188 L95 195 L96 199 L86 199 L78 191 C68 193 58 193 54 192 L53 200 L47 200 L46 192 C40 193 30 193 22 190 L12 199 L3 199 L5 194 L15 187 C12 183 8 176 8 165 C8 150 10 130 12 112 C14 95 16 80 21 68 C19 68 17 66 17 62 C17 54 24 48 33 48 C37 44 39 38 40 30 C41 22 44 16 50 16 Z" fill="url(#mg)" filter="url(#mb)" transform="translate(135.0,261.0) scale(0.3180,0.2659) translate(0,-200)"/><g filter="url(#bl)"><ellipse cx="143.2" cy="248.0" rx="3.70" ry="3.70" fill="#7010ff"/><ellipse cx="143.2" cy="248.0" rx="3.22" ry="3.22" fill="#1010ff"/><ellipse cx="143.2" cy="248.0" rx="2.74" ry="2.74" fill="#10a8ff"/><ellipse cx="143.2" cy="248.0" rx="2.41" ry="2.41" fill="#30e840"/></g>
<rect x="196.1" y="208.6" width="29.8" height="51.1" fill="url(#bgp)"/><path d="M50 16 C56 16 59 22 60 30 C61 38 63 44 67 48 C76 48 84 54 83 62 C83 66 81 68 79 68 C84 86 87 108 89 130 C92 150 94 168 90 180 C89 184 87 187 85 188 L95 195 L96 199 L86 199 L78 191 C68 193 58 193 54 192 L53 200 L47 200 L46 192 C40 193 30 193 22 190 L12 199 L3 199 L5 194 L15 187 C12 183 8 176 8 165 C8 150 10 130 12 112 C14 95 16 80 21 68 C19 68 17 66 17 62 C17 54 24 48 33 48 C37 44 39 38 40 30 C41 22 44 16 50 16 Z" fill="url(#mg)" filter="url(#mb)" transform="translate(196.1,259.7) scale(0.2980,0.2583) translate(0,-200)"/><g filter="url(#bl)"><ellipse cx="204.9" cy="246.9" rx="3.70" ry="3.70" fill="#7010ff"/><ellipse cx="204.9" cy="246.9" rx="3.22" ry="3.22" fill="#1010ff"/><ellipse cx="204.9" cy="246.9" rx="2.74" ry="2.74" fill="#10a8ff"/><ellipse cx="204.9" cy="246.9" rx="2.41" ry="2.41" fill="#30e840"/></g>
<rect x="228.2" y="208.6" width="32.8" height="51.1" fill="url(#bgp)"/><path d="M50 16 C56 16 59 22 60 30 C61 38 63 44 67 48 C76 48 84 54 83 62 C83 66 81 68 79 68 C84 86 87 108 89 130 C92 150 94 168 90 180 C89 184 87 187 85 188 L95 195 L96 199 L86 199 L78 191 C68 193 58 193 54 192 L53 200 L47 200 L46 192 C40 193 30 193 22 190 L12 199 L3 199 L5 194 L15 187 C12 183 8 176 8 165 C8 150 10 130 12 112 C14 95 16 80 21 68 C19 68 17 66 17 62 C17 54 24 48 33 48 C37 44 39 38 40 30 C41 22 44 16 50 16 Z" fill="url(#mg)" filter="url(#mb)" transform="translate(228.2,259.7) scale(0.3280,0.2583) translate(0,-200)"/><g filter="url(#bl)"><ellipse cx="238.7" cy="248.7" rx="4.00" ry="4.00" fill="#7010ff"/><ellipse cx="238.7" cy="248.7" rx="3.48" ry="3.48" fill="#1010ff"/><ellipse cx="238.7" cy="248.7" rx="2.96" ry="2.96" fill="#10a8ff"/><ellipse cx="238.7" cy="248.7" rx="2.60" ry="2.60" fill="#30e840"/><ellipse cx="238.7" cy="248.7" rx="1.28" ry="1.28" fill="#d8f020"/></g>
<rect x="262.7" y="208.6" width="27.5" height="51.1" fill="url(#bgp)"/><path d="M50 16 C56 16 59 22 60 30 C61 38 63 44 67 48 C76 48 84 54 83 62 C83 66 81 68 79 68 C84 86 87 108 89 130 C92 150 94 168 90 180 C89 184 87 187 85 188 L95 195 L96 199 L86 199 L78 191 C68 193 58 193 54 192 L53 200 L47 200 L46 192 C40 193 30 193 22 190 L12 199 L3 199 L5 194 L15 187 C12 183 8 176 8 165 C8 150 10 130 12 112 C14 95 16 80 21 68 C19 68 17 66 17 62 C17 54 24 48 33 48 C37 44 39 38 40 30 C41 22 44 16 50 16 Z" fill="url(#mg)" filter="url(#mb)" transform="translate(262.7,259.7) scale(0.2750,0.2583) translate(0,-200)"/><g filter="url(#bl)"><ellipse cx="269.7" cy="248.8" rx="4.00" ry="4.00" fill="#7010ff"/><ellipse cx="269.7" cy="248.8" rx="3.48" ry="3.48" fill="#1010ff"/><ellipse cx="269.7" cy="248.8" rx="2.96" ry="2.96" fill="#10a8ff"/><ellipse cx="269.7" cy="248.8" rx="2.60" ry="2.60" fill="#30e840"/><ellipse cx="269.7" cy="248.8" rx="1.28" ry="1.28" fill="#d8f020"/><ellipse cx="269.7" cy="248.8" rx="0.68" ry="0.68" fill="#ff3010"/></g>
<rect x="291.9" y="208.6" width="28.9" height="51.6" fill="url(#bgp)"/><path d="M50 16 C56 16 59 22 60 30 C61 38 63 44 67 48 C76 48 84 54 83 62 C83 66 81 68 79 68 C84 86 87 108 89 130 C92 150 94 168 90 180 C89 184 87 187 85 188 L95 195 L96 199 L86 199 L78 191 C68 193 58 193 54 192 L53 200 L47 200 L46 192 C40 193 30 193 22 190 L12 199 L3 199 L5 194 L15 187 C12 183 8 176 8 165 C8 150 10 130 12 112 C14 95 16 80 21 68 C19 68 17 66 17 62 C17 54 24 48 33 48 C37 44 39 38 40 30 C41 22 44 16 50 16 Z" fill="url(#mg)" filter="url(#mb)" transform="translate(291.9,260.2) scale(0.2890,0.2608) translate(0,-200)"/><g filter="url(#bl)"><ellipse cx="301.4" cy="251.0" rx="6.60" ry="6.10" fill="#7010ff"/><ellipse cx="301.4" cy="251.0" rx="5.74" ry="5.31" fill="#1010ff"/><ellipse cx="301.4" cy="251.0" rx="4.88" ry="4.51" fill="#10a8ff"/><ellipse cx="301.4" cy="251.0" rx="4.29" ry="3.96" fill="#30e840"/><ellipse cx="301.4" cy="251.0" rx="2.11" ry="1.95" fill="#d8f020"/></g>
<rect x="322.0" y="208.6" width="31.6" height="51.6" fill="url(#bgp)"/><path d="M50 16 C56 16 59 22 60 30 C61 38 63 44 67 48 C76 48 84 54 83 62 C83 66 81 68 79 68 C84 86 87 108 89 130 C92 150 94 168 90 180 C89 184 87 187 85 188 L95 195 L96 199 L86 199 L78 191 C68 193 58 193 54 192 L53 200 L47 200 L46 192 C40 193 30 193 22 190 L12 199 L3 199 L5 194 L15 187 C12 183 8 176 8 165 C8 150 10 130 12 112 C14 95 16 80 21 68 C19 68 17 66 17 62 C17 54 24 48 33 48 C37 44 39 38 40 30 C41 22 44 16 50 16 Z" fill="url(#mg)" filter="url(#mb)" transform="translate(322.0,260.2) scale(0.3160,0.2608) translate(0,-200)"/><g filter="url(#bl)"><ellipse cx="332.6" cy="249.3" rx="10.00" ry="6.10" fill="#7010ff"/><ellipse cx="332.6" cy="249.3" rx="8.70" ry="5.31" fill="#1010ff"/><ellipse cx="332.6" cy="249.3" rx="7.40" ry="4.51" fill="#10a8ff"/><ellipse cx="332.6" cy="249.3" rx="6.50" ry="3.96" fill="#30e840"/><ellipse cx="332.6" cy="249.3" rx="3.20" ry="1.95" fill="#d8f020"/></g>
<rect x="37.3" y="280.1" width="28.9" height="52.2" fill="url(#bgp)"/><path d="M50 16 C56 16 59 22 60 30 C61 38 63 44 67 48 C76 48 84 54 83 62 C83 66 81 68 79 68 C84 86 87 108 89 130 C92 150 94 168 90 180 C89 184 87 187 85 188 L95 195 L96 199 L86 199 L78 191 C68 193 58 193 54 192 L53 200 L47 200 L46 192 C40 193 30 193 22 190 L12 199 L3 199 L5 194 L15 187 C12 183 8 176 8 165 C8 150 10 130 12 112 C14 95 16 80 21 68 C19 68 17 66 17 62 C17 54 24 48 33 48 C37 44 39 38 40 30 C41 22 44 16 50 16 Z" fill="url(#mg)" filter="url(#mb)" transform="translate(37.3,332.3) scale(0.2890,0.2695) translate(0,-200)"/><g filter="url(#bl)"><ellipse cx="46.4" cy="320.8" rx="4.30" ry="3.40" fill="#7010ff"/><ellipse cx="46.4" cy="320.8" rx="3.74" ry="2.96" fill="#1010ff"/><ellipse cx="46.4" cy="320.8" rx="3.18" ry="2.52" fill="#10a8ff"/></g>
<rect x="102.0" y="279.6" width="29.0" height="52.2" fill="url(#bgp)"/><path d="M50 16 C56 16 59 22 60 30 C61 38 63 44 67 48 C76 48 84 54 83 62 C83 66 81 68 79 68 C84 86 87 108 89 130 C92 150 94 168 90 180 C89 184 87 187 85 188 L95 195 L96 199 L86 199 L78 191 C68 193 58 193 54 192 L53 200 L47 200 L46 192 C40 193 30 193 22 190 L12 199 L3 199 L5 194 L15 187 C12 183 8 176 8 165 C8 150 10 130 12 112 C14 95 16 80 21 68 C19 68 17 66 17 62 C17 54 24 48 33 48 C37 44 39 38 40 30 C41 22 44 16 50 16 Z" fill="url(#mg)" filter="url(#mb)" transform="translate(102.0,331.8) scale(0.2900,0.2695) translate(0,-200)"/><g filter="url(#bl)"><ellipse cx="111.6" cy="320.1" rx="3.50" ry="3.00" fill="#7010ff"/><ellipse cx="111.6" cy="320.1" rx="3.04" ry="2.61" fill="#1010ff"/><ellipse cx="111.6" cy="320.1" rx="2.59" ry="2.22" fill="#10a8ff"/></g>
<rect x="133.0" y="279.6" width="28.0" height="52.2" fill="url(#bgp)"/><path d="M50 16 C56 16 59 22 60 30 C61 38 63 44 67 48 C76 48 84 54 83 62 C83 66 81 68 79 68 C84 86 87 108 89 130 C92 150 94 168 90 180 C89 184 87 187 85 188 L95 195 L96 199 L86 199 L78 191 C68 193 58 193 54 192 L53 200 L47 200 L46 192 C40 193 30 193 22 190 L12 199 L3 199 L5 194 L15 187 C12 183 8 176 8 165 C8 150 10 130 12 112 C14 95 16 80 21 68 C19 68 17 66 17 62 C17 54 24 48 33 48 C37 44 39 38 40 30 C41 22 44 16 50 16 Z" fill="url(#mg)" filter="url(#mb)" transform="translate(133.0,331.8) scale(0.2800,0.2695) translate(0,-200)"/><g filter="url(#bl)"><ellipse cx="142.7" cy="321.0" rx="4.00" ry="3.40" fill="#7010ff"/><ellipse cx="142.7" cy="321.0" rx="3.48" ry="2.96" fill="#1010ff"/><ellipse cx="142.7" cy="321.0" rx="2.96" ry="2.52" fill="#10a8ff"/><ellipse cx="142.7" cy="321.0" rx="2.60" ry="2.21" fill="#30e840"/></g>
<rect x="197.0" y="279.5" width="26.8" height="51.0" fill="url(#bgp)"/><path d="M50 16 C56 16 59 22 60 30 C61 38 63 44 67 48 C76 48 84 54 83 62 C83 66 81 68 79 68 C84 86 87 108 89 130 C92 150 94 168 90 180 C89 184 87 187 85 188 L95 195 L96 199 L86 199 L78 191 C68 193 58 193 54 192 L53 200 L47 200 L46 192 C40 193 30 193 22 190 L12 199 L3 199 L5 194 L15 187 C12 183 8 176 8 165 C8 150 10 130 12 112 C14 95 16 80 21 68 C19 68 17 66 17 62 C17 54 24 48 33 48 C37 44 39 38 40 30 C41 22 44 16 50 16 Z" fill="url(#mg)" filter="url(#mb)" transform="translate(197.0,330.5) scale(0.2680,0.2633) translate(0,-200)"/><g filter="url(#bl)"><ellipse cx="204.2" cy="319.7" rx="6.30" ry="4.60" fill="#7010ff"/><ellipse cx="204.2" cy="319.7" rx="5.48" ry="4.00" fill="#1010ff"/><ellipse cx="204.2" cy="319.7" rx="4.66" ry="3.40" fill="#10a8ff"/><ellipse cx="204.2" cy="319.7" rx="4.09" ry="2.99" fill="#30e840"/><ellipse cx="204.2" cy="319.7" rx="2.02" ry="1.47" fill="#d8f020"/></g>
<rect x="226.0" y="279.5" width="31.0" height="51.0" fill="url(#bgp)"/><path d="M50 16 C56 16 59 22 60 30 C61 38 63 44 67 48 C76 48 84 54 83 62 C83 66 81 68 79 68 C84 86 87 108 89 130 C92 150 94 168 90 180 C89 184 87 187 85 188 L95 195 L96 199 L86 199 L78 191 C68 193 58 193 54 192 L53 200 L47 200 L46 192 C40 193 30 193 22 190 L12 199 L3 199 L5 194 L15 187 C12 183 8 176 8 165 C8 150 10 130 12 112 C14 95 16 80 21 68 C19 68 17 66 17 62 C17 54 24 48 33 48 C37 44 39 38 40 30 C41 22 44 16 50 16 Z" fill="url(#mg)" filter="url(#mb)" transform="translate(226.0,330.5) scale(0.3100,0.2633) translate(0,-200)"/><g filter="url(#bl)"><ellipse cx="232.9" cy="319.8" rx="3.70" ry="3.70" fill="#7010ff"/><ellipse cx="232.9" cy="319.8" rx="3.22" ry="3.22" fill="#1010ff"/><ellipse cx="232.9" cy="319.8" rx="2.74" ry="2.74" fill="#10a8ff"/><ellipse cx="232.9" cy="319.8" rx="2.41" ry="2.41" fill="#30e840"/></g>
<rect x="259.7" y="279.5" width="29.3" height="51.0" fill="url(#bgp)"/><path d="M50 16 C56 16 59 22 60 30 C61 38 63 44 67 48 C76 48 84 54 83 62 C83 66 81 68 79 68 C84 86 87 108 89 130 C92 150 94 168 90 180 C89 184 87 187 85 188 L95 195 L96 199 L86 199 L78 191 C68 193 58 193 54 192 L53 200 L47 200 L46 192 C40 193 30 193 22 190 L12 199 L3 199 L5 194 L15 187 C12 183 8 176 8 165 C8 150 10 130 12 112 C14 95 16 80 21 68 C19 68 17 66 17 62 C17 54 24 48 33 48 C37 44 39 38 40 30 C41 22 44 16 50 16 Z" fill="url(#mg)" filter="url(#mb)" transform="translate(259.7,330.5) scale(0.2930,0.2633) translate(0,-200)"/><g filter="url(#bl)"><ellipse cx="270.3" cy="320.4" rx="4.00" ry="3.50" fill="#7010ff"/><ellipse cx="270.3" cy="320.4" rx="3.48" ry="3.04" fill="#1010ff"/><ellipse cx="270.3" cy="320.4" rx="2.96" ry="2.59" fill="#10a8ff"/><ellipse cx="270.3" cy="320.4" rx="2.60" ry="2.27" fill="#30e840"/><ellipse cx="270.3" cy="320.4" rx="1.28" ry="1.12" fill="#d8f020"/></g>
<rect x="291.4" y="279.5" width="28.9" height="51.0" fill="url(#bgp)"/><path d="M50 16 C56 16 59 22 60 30 C61 38 63 44 67 48 C76 48 84 54 83 62 C83 66 81 68 79 68 C84 86 87 108 89 130 C92 150 94 168 90 180 C89 184 87 187 85 188 L95 195 L96 199 L86 199 L78 191 C68 193 58 193 54 192 L53 200 L47 200 L46 192 C40 193 30 193 22 190 L12 199 L3 199 L5 194 L15 187 C12 183 8 176 8 165 C8 150 10 130 12 112 C14 95 16 80 21 68 C19 68 17 66 17 62 C17 54 24 48 33 48 C37 44 39 38 40 30 C41 22 44 16 50 16 Z" fill="url(#mg)" filter="url(#mb)" transform="translate(291.4,330.5) scale(0.2890,0.2633) translate(0,-200)"/><g filter="url(#bl)"><ellipse cx="301.0" cy="320.7" rx="4.00" ry="4.00" fill="#7010ff"/><ellipse cx="301.0" cy="320.7" rx="3.48" ry="3.48" fill="#1010ff"/><ellipse cx="301.0" cy="320.7" rx="2.96" ry="2.96" fill="#10a8ff"/><ellipse cx="301.0" cy="320.7" rx="2.60" ry="2.60" fill="#30e840"/><ellipse cx="301.0" cy="320.7" rx="1.28" ry="1.28" fill="#d8f020"/></g>
<rect x="322.4" y="279.5" width="31.2" height="51.0" fill="url(#bgp)"/><path d="M50 16 C56 16 59 22 60 30 C61 38 63 44 67 48 C76 48 84 54 83 62 C83 66 81 68 79 68 C84 86 87 108 89 130 C92 150 94 168 90 180 C89 184 87 187 85 188 L95 195 L96 199 L86 199 L78 191 C68 193 58 193 54 192 L53 200 L47 200 L46 192 C40 193 30 193 22 190 L12 199 L3 199 L5 194 L15 187 C12 183 8 176 8 165 C8 150 10 130 12 112 C14 95 16 80 21 68 C19 68 17 66 17 62 C17 54 24 48 33 48 C37 44 39 38 40 30 C41 22 44 16 50 16 Z" fill="url(#mg)" filter="url(#mb)" transform="translate(322.4,330.5) scale(0.3120,0.2633) translate(0,-200)"/><g filter="url(#bl)"><ellipse cx="335.8" cy="318.0" rx="7.00" ry="6.50" fill="#7010ff"/><ellipse cx="335.8" cy="318.0" rx="6.09" ry="5.66" fill="#1010ff"/><ellipse cx="335.8" cy="318.0" rx="5.18" ry="4.81" fill="#10a8ff"/><ellipse cx="335.8" cy="318.0" rx="4.55" ry="4.23" fill="#30e840"/><ellipse cx="335.8" cy="318.0" rx="2.24" ry="2.08" fill="#d8f020"/><ellipse cx="335.8" cy="318.0" rx="1.19" ry="1.10" fill="#ff3010"/></g>
<text x="118.7" y="206.0" font-size="6.3" font-weight="bold" text-anchor="middle" fill="#111" textLength="17.5" lengthAdjust="spacingAndGlyphs">Day 2</text>
<text x="149.3" y="206.0" font-size="6.3" font-weight="bold" text-anchor="middle" fill="#111" textLength="17.5" lengthAdjust="spacingAndGlyphs">Day 8</text>
<text x="212.4" y="206.0" font-size="6.3" font-weight="bold" text-anchor="middle" fill="#111" textLength="21.8" lengthAdjust="spacingAndGlyphs">Day 10</text>
<text x="244.3" y="206.0" font-size="6.3" font-weight="bold" text-anchor="middle" fill="#111" textLength="21.8" lengthAdjust="spacingAndGlyphs">Day 16</text>
<text x="276.4" y="206.0" font-size="6.3" font-weight="bold" text-anchor="middle" fill="#111" textLength="21.8" lengthAdjust="spacingAndGlyphs">Day 18</text>
<text x="306.6" y="206.0" font-size="6.3" font-weight="bold" text-anchor="middle" fill="#111" textLength="21.8" lengthAdjust="spacingAndGlyphs">Day 22</text>
<text x="338.2" y="206.0" font-size="6.3" font-weight="bold" text-anchor="middle" fill="#111" textLength="21.8" lengthAdjust="spacingAndGlyphs">Day 26</text>
<text x="117.8" y="277.8" font-size="6.3" font-weight="bold" text-anchor="middle" fill="#111" textLength="17.5" lengthAdjust="spacingAndGlyphs">Day 2</text>
<text x="146.7" y="277.8" font-size="6.3" font-weight="bold" text-anchor="middle" fill="#111" textLength="17.5" lengthAdjust="spacingAndGlyphs">Day 8</text>
<text x="211.4" y="277.8" font-size="6.3" font-weight="bold" text-anchor="middle" fill="#111" textLength="21.8" lengthAdjust="spacingAndGlyphs">Day 10</text>
<text x="244.3" y="277.8" font-size="6.3" font-weight="bold" text-anchor="middle" fill="#111" textLength="21.8" lengthAdjust="spacingAndGlyphs">Day 16</text>
<text x="275.5" y="277.8" font-size="6.3" font-weight="bold" text-anchor="middle" fill="#111" textLength="21.8" lengthAdjust="spacingAndGlyphs">Day 18</text>
<text x="305.9" y="277.8" font-size="6.3" font-weight="bold" text-anchor="middle" fill="#111" textLength="21.8" lengthAdjust="spacingAndGlyphs">Day 22</text>
<text x="337.3" y="277.8" font-size="6.3" font-weight="bold" text-anchor="middle" fill="#111" textLength="21.8" lengthAdjust="spacingAndGlyphs">Day 26</text>
<rect x="71.8" y="209.2" width="3.9" height="113.0" fill="url(#cb)"/><line x1="75.7" y1="212.9" x2="77.3" y2="212.9" stroke="#555" stroke-width="0.45"/><text x="80.5" y="214.0" font-size="3" fill="#444">1.6</text><line x1="75.7" y1="216.3" x2="76.7" y2="216.3" stroke="#888" stroke-width="0.35"/><line x1="75.7" y1="219.8" x2="76.7" y2="219.8" stroke="#888" stroke-width="0.35"/><line x1="75.7" y1="223.2" x2="76.7" y2="223.2" stroke="#888" stroke-width="0.35"/><line x1="75.7" y1="226.6" x2="76.7" y2="226.6" stroke="#888" stroke-width="0.35"/><line x1="75.7" y1="230.0" x2="77.3" y2="230.0" stroke="#555" stroke-width="0.45"/><text x="80.5" y="231.1" font-size="3" fill="#444">1.2</text><line x1="75.7" y1="233.4" x2="76.7" y2="233.4" stroke="#888" stroke-width="0.35"/><line x1="75.7" y1="236.8" x2="76.7" y2="236.8" stroke="#888" stroke-width="0.35"/><line x1="75.7" y1="240.2" x2="76.7" y2="240.2" stroke="#888" stroke-width="0.35"/><line x1="75.7" y1="243.6" x2="76.7" y2="243.6" stroke="#888" stroke-width="0.35"/><line x1="75.7" y1="247.1" x2="77.3" y2="247.1" stroke="#555" stroke-width="0.45"/><text x="80.5" y="248.2" font-size="3" fill="#444">1.0</text><line x1="75.7" y1="250.5" x2="76.7" y2="250.5" stroke="#888" stroke-width="0.35"/><line x1="75.7" y1="253.9" x2="76.7" y2="253.9" stroke="#888" stroke-width="0.35"/><line x1="75.7" y1="257.3" x2="76.7" y2="257.3" stroke="#888" stroke-width="0.35"/><line x1="75.7" y1="260.7" x2="76.7" y2="260.7" stroke="#888" stroke-width="0.35"/><line x1="75.7" y1="264.1" x2="77.3" y2="264.1" stroke="#555" stroke-width="0.45"/><text x="80.5" y="265.2" font-size="3" fill="#444">0.8</text><line x1="75.7" y1="267.5" x2="76.7" y2="267.5" stroke="#888" stroke-width="0.35"/><line x1="75.7" y1="270.9" x2="76.7" y2="270.9" stroke="#888" stroke-width="0.35"/><line x1="75.7" y1="274.4" x2="76.7" y2="274.4" stroke="#888" stroke-width="0.35"/><line x1="75.7" y1="277.8" x2="76.7" y2="277.8" stroke="#888" stroke-width="0.35"/><line x1="75.7" y1="281.2" x2="77.3" y2="281.2" stroke="#555" stroke-width="0.45"/><text x="80.5" y="282.3" font-size="3" fill="#444">0.6</text><line x1="75.7" y1="284.6" x2="76.7" y2="284.6" stroke="#888" stroke-width="0.35"/><line x1="75.7" y1="288.0" x2="76.7" y2="288.0" stroke="#888" stroke-width="0.35"/><line x1="75.7" y1="291.4" x2="76.7" y2="291.4" stroke="#888" stroke-width="0.35"/><line x1="75.7" y1="294.8" x2="76.7" y2="294.8" stroke="#888" stroke-width="0.35"/><line x1="75.7" y1="298.2" x2="77.3" y2="298.2" stroke="#555" stroke-width="0.45"/><text x="80.5" y="299.3" font-size="3" fill="#444">0.4</text><line x1="75.7" y1="301.7" x2="76.7" y2="301.7" stroke="#888" stroke-width="0.35"/><line x1="75.7" y1="305.1" x2="76.7" y2="305.1" stroke="#888" stroke-width="0.35"/><line x1="75.7" y1="308.5" x2="76.7" y2="308.5" stroke="#888" stroke-width="0.35"/><line x1="75.7" y1="311.9" x2="76.7" y2="311.9" stroke="#888" stroke-width="0.35"/><line x1="75.7" y1="315.3" x2="77.3" y2="315.3" stroke="#555" stroke-width="0.45"/><text x="80.5" y="316.4" font-size="3" fill="#444">0.2</text><line x1="75.7" y1="318.7" x2="76.7" y2="318.7" stroke="#888" stroke-width="0.35"/><line x1="75.7" y1="322.1" x2="76.7" y2="322.1" stroke="#888" stroke-width="0.35"/><text x="86.2" y="265.9" font-size="3" fill="#444">x10<tspan dy="-1.2" font-size="2.2">7</tspan></text><text x="71.8" y="325.1" font-size="2.6" fill="#555">Radiance</text><text x="71.8" y="327.8" font-size="2.6" fill="#555">(p/sec/cm²/sr)</text><rect x="71.8" y="329" width="20.7" height="9.5" fill="#fff" stroke="#666" stroke-width="0.6"/><text x="73.0" y="332.0" font-size="2.6" fill="#444">Color Scale</text><text x="73.0" y="334.9" font-size="2.6" fill="#444">Min = 5.0e5</text><text x="73.0" y="337.7" font-size="2.6" fill="#444">Max = 1.3e6</text>
<rect x="172" y="205.8" width="4.0" height="120.4" fill="url(#cb)"/><line x1="176" y1="209.8" x2="177.6" y2="209.8" stroke="#555" stroke-width="0.45"/><text x="180.8" y="210.9" font-size="3" fill="#444">1.6</text><line x1="176" y1="213.4" x2="177" y2="213.4" stroke="#888" stroke-width="0.35"/><line x1="176" y1="217.0" x2="177" y2="217.0" stroke="#888" stroke-width="0.35"/><line x1="176" y1="220.7" x2="177" y2="220.7" stroke="#888" stroke-width="0.35"/><line x1="176" y1="224.3" x2="177" y2="224.3" stroke="#888" stroke-width="0.35"/><line x1="176" y1="228.0" x2="177.6" y2="228.0" stroke="#555" stroke-width="0.45"/><text x="180.8" y="229.1" font-size="3" fill="#444">1.2</text><line x1="176" y1="231.6" x2="177" y2="231.6" stroke="#888" stroke-width="0.35"/><line x1="176" y1="235.2" x2="177" y2="235.2" stroke="#888" stroke-width="0.35"/><line x1="176" y1="238.9" x2="177" y2="238.9" stroke="#888" stroke-width="0.35"/><line x1="176" y1="242.5" x2="177" y2="242.5" stroke="#888" stroke-width="0.35"/><line x1="176" y1="246.1" x2="177.6" y2="246.1" stroke="#555" stroke-width="0.45"/><text x="180.8" y="247.2" font-size="3" fill="#444">1.0</text><line x1="176" y1="249.8" x2="177" y2="249.8" stroke="#888" stroke-width="0.35"/><line x1="176" y1="253.4" x2="177" y2="253.4" stroke="#888" stroke-width="0.35"/><line x1="176" y1="257.0" x2="177" y2="257.0" stroke="#888" stroke-width="0.35"/><line x1="176" y1="260.7" x2="177" y2="260.7" stroke="#888" stroke-width="0.35"/><line x1="176" y1="264.3" x2="177.6" y2="264.3" stroke="#555" stroke-width="0.45"/><text x="180.8" y="265.4" font-size="3" fill="#444">0.8</text><line x1="176" y1="268.0" x2="177" y2="268.0" stroke="#888" stroke-width="0.35"/><line x1="176" y1="271.6" x2="177" y2="271.6" stroke="#888" stroke-width="0.35"/><line x1="176" y1="275.2" x2="177" y2="275.2" stroke="#888" stroke-width="0.35"/><line x1="176" y1="278.9" x2="177" y2="278.9" stroke="#888" stroke-width="0.35"/><line x1="176" y1="282.5" x2="177.6" y2="282.5" stroke="#555" stroke-width="0.45"/><text x="180.8" y="283.6" font-size="3" fill="#444">0.6</text><line x1="176" y1="286.1" x2="177" y2="286.1" stroke="#888" stroke-width="0.35"/><line x1="176" y1="289.8" x2="177" y2="289.8" stroke="#888" stroke-width="0.35"/><line x1="176" y1="293.4" x2="177" y2="293.4" stroke="#888" stroke-width="0.35"/><line x1="176" y1="297.0" x2="177" y2="297.0" stroke="#888" stroke-width="0.35"/><line x1="176" y1="300.7" x2="177.6" y2="300.7" stroke="#555" stroke-width="0.45"/><text x="180.8" y="301.8" font-size="3" fill="#444">0.4</text><line x1="176" y1="304.3" x2="177" y2="304.3" stroke="#888" stroke-width="0.35"/><line x1="176" y1="307.9" x2="177" y2="307.9" stroke="#888" stroke-width="0.35"/><line x1="176" y1="311.6" x2="177" y2="311.6" stroke="#888" stroke-width="0.35"/><line x1="176" y1="315.2" x2="177" y2="315.2" stroke="#888" stroke-width="0.35"/><line x1="176" y1="318.9" x2="177.6" y2="318.9" stroke="#555" stroke-width="0.45"/><text x="180.8" y="320.0" font-size="3" fill="#444">0.2</text><line x1="176" y1="322.5" x2="177" y2="322.5" stroke="#888" stroke-width="0.35"/><line x1="176" y1="326.1" x2="177" y2="326.1" stroke="#888" stroke-width="0.35"/><text x="186.5" y="266.1" font-size="3" fill="#444">x10<tspan dy="-1.2" font-size="2.2">7</tspan></text><text x="172" y="329.1" font-size="2.6" fill="#555">Radiance</text><text x="172" y="331.8" font-size="2.6" fill="#555">(p/sec/cm²/sr)</text><rect x="172.3" y="334.2" width="20.5" height="9.1" fill="#fff" stroke="#666" stroke-width="0.6"/><text x="173.5" y="337.1" font-size="2.5" fill="#444">Color Scale</text><text x="173.5" y="339.8" font-size="2.5" fill="#444">Min = 5.0e5</text><text x="173.5" y="342.6" font-size="2.5" fill="#444">Max = 1.3e6</text>
<rect x="360.6" y="200.1" width="4.0" height="124.9" fill="url(#cb)"/><line x1="364.6" y1="204.2" x2="366.20000000000005" y2="204.2" stroke="#555" stroke-width="0.45"/><text x="369.40000000000003" y="205.3" font-size="3" fill="#444">1.6</text><line x1="364.6" y1="208.0" x2="365.6" y2="208.0" stroke="#888" stroke-width="0.35"/><line x1="364.6" y1="211.8" x2="365.6" y2="211.8" stroke="#888" stroke-width="0.35"/><line x1="364.6" y1="215.5" x2="365.6" y2="215.5" stroke="#888" stroke-width="0.35"/><line x1="364.6" y1="219.3" x2="365.6" y2="219.3" stroke="#888" stroke-width="0.35"/><line x1="364.6" y1="223.1" x2="366.20000000000005" y2="223.1" stroke="#555" stroke-width="0.45"/><text x="369.40000000000003" y="224.2" font-size="3" fill="#444">1.2</text><line x1="364.6" y1="226.9" x2="365.6" y2="226.9" stroke="#888" stroke-width="0.35"/><line x1="364.6" y1="230.6" x2="365.6" y2="230.6" stroke="#888" stroke-width="0.35"/><line x1="364.6" y1="234.4" x2="365.6" y2="234.4" stroke="#888" stroke-width="0.35"/><line x1="364.6" y1="238.2" x2="365.6" y2="238.2" stroke="#888" stroke-width="0.35"/><line x1="364.6" y1="241.9" x2="366.20000000000005" y2="241.9" stroke="#555" stroke-width="0.45"/><text x="369.40000000000003" y="243.0" font-size="3" fill="#444">1.0</text><line x1="364.6" y1="245.7" x2="365.6" y2="245.7" stroke="#888" stroke-width="0.35"/><line x1="364.6" y1="249.5" x2="365.6" y2="249.5" stroke="#888" stroke-width="0.35"/><line x1="364.6" y1="253.3" x2="365.6" y2="253.3" stroke="#888" stroke-width="0.35"/><line x1="364.6" y1="257.0" x2="365.6" y2="257.0" stroke="#888" stroke-width="0.35"/><line x1="364.6" y1="260.8" x2="366.20000000000005" y2="260.8" stroke="#555" stroke-width="0.45"/><text x="369.40000000000003" y="261.9" font-size="3" fill="#444">0.8</text><line x1="364.6" y1="264.6" x2="365.6" y2="264.6" stroke="#888" stroke-width="0.35"/><line x1="364.6" y1="268.3" x2="365.6" y2="268.3" stroke="#888" stroke-width="0.35"/><line x1="364.6" y1="272.1" x2="365.6" y2="272.1" stroke="#888" stroke-width="0.35"/><line x1="364.6" y1="275.9" x2="365.6" y2="275.9" stroke="#888" stroke-width="0.35"/><line x1="364.6" y1="279.7" x2="366.20000000000005" y2="279.7" stroke="#555" stroke-width="0.45"/><text x="369.40000000000003" y="280.8" font-size="3" fill="#444">0.6</text><line x1="364.6" y1="283.4" x2="365.6" y2="283.4" stroke="#888" stroke-width="0.35"/><line x1="364.6" y1="287.2" x2="365.6" y2="287.2" stroke="#888" stroke-width="0.35"/><line x1="364.6" y1="291.0" x2="365.6" y2="291.0" stroke="#888" stroke-width="0.35"/><line x1="364.6" y1="294.7" x2="365.6" y2="294.7" stroke="#888" stroke-width="0.35"/><line x1="364.6" y1="298.5" x2="366.20000000000005" y2="298.5" stroke="#555" stroke-width="0.45"/><text x="369.40000000000003" y="299.6" font-size="3" fill="#444">0.4</text><line x1="364.6" y1="302.3" x2="365.6" y2="302.3" stroke="#888" stroke-width="0.35"/><line x1="364.6" y1="306.1" x2="365.6" y2="306.1" stroke="#888" stroke-width="0.35"/><line x1="364.6" y1="309.8" x2="365.6" y2="309.8" stroke="#888" stroke-width="0.35"/><line x1="364.6" y1="313.6" x2="365.6" y2="313.6" stroke="#888" stroke-width="0.35"/><line x1="364.6" y1="317.4" x2="366.20000000000005" y2="317.4" stroke="#555" stroke-width="0.45"/><text x="369.40000000000003" y="318.5" font-size="3" fill="#444">0.2</text><line x1="364.6" y1="321.2" x2="365.6" y2="321.2" stroke="#888" stroke-width="0.35"/><line x1="364.6" y1="324.9" x2="365.6" y2="324.9" stroke="#888" stroke-width="0.35"/><text x="375.1" y="262.6" font-size="3" fill="#444">x10<tspan dy="-1.2" font-size="2.2">7</tspan></text><text x="360.6" y="327.9" font-size="2.6" fill="#555">Radiance</text><text x="360.6" y="330.6" font-size="2.6" fill="#555">(p/sec/cm²/sr)</text><rect x="360.4" y="334" width="21.3" height="10.0" fill="#fff" stroke="#666" stroke-width="0.6"/><text x="361.59999999999997" y="337.2" font-size="2.6" fill="#444">Color Scale</text><text x="361.59999999999997" y="340.2" font-size="2.6" fill="#444">Min = 5.0e5</text><text x="361.59999999999997" y="343.2" font-size="2.6" fill="#444">Max = 1.3e6</text>
<rect x="102.9" y="333.2" width="58.69999999999999" height="8.600000000000023" fill="url(#dg)" stroke="#8a8a8a" stroke-width="0.6"/><text x="106.4" y="340.0" font-size="7" font-weight="bold" fill="#ffffff" textLength="18.8" lengthAdjust="spacingAndGlyphs">Dose 1</text>
<rect x="195.2" y="332.3" width="61.60000000000002" height="9.899999999999977" fill="url(#dg)" stroke="#8a8a8a" stroke-width="0.6"/><text x="200.7" y="339.8" font-size="7" font-weight="bold" fill="#ffffff" textLength="21.5" lengthAdjust="spacingAndGlyphs">Dose 2</text>
<rect x="259" y="332.3" width="62.80000000000001" height="9.899999999999977" fill="url(#dg)" stroke="#8a8a8a" stroke-width="0.6"/><text x="261.4" y="339.8" font-size="7" font-weight="bold" fill="#ffffff" textLength="20.6" lengthAdjust="spacingAndGlyphs">Dose 3</text>
<text x="2.2" y="368.9" font-size="12.8" font-weight="normal" text-anchor="start" fill="#111" >E</text>
<text x="54.3" y="367.7" font-size="6.3" font-weight="bold" text-anchor="middle" fill="#111" textLength="42.6" lengthAdjust="spacingAndGlyphs">Day 1 Post-</text>
<text x="54.0" y="375.2" font-size="6.3" font-weight="bold" text-anchor="middle" fill="#111" textLength="46" lengthAdjust="spacingAndGlyphs">Implantation</text>
<text transform="translate(29.2,404.5) rotate(-90)" font-size="8.4" font-weight="bold" text-anchor="middle" fill="#111" textLength="49.5" lengthAdjust="spacingAndGlyphs">P523S Untreated</text>
<text transform="translate(24.0,486.0) rotate(-90)" font-size="8.4" font-weight="bold" text-anchor="middle" fill="#111" textLength="60" lengthAdjust="spacingAndGlyphs">P523S Trastuzumab</text>
<text transform="translate(33.6,486.0) rotate(-90)" font-size="8.4" font-weight="bold" text-anchor="middle" fill="#111" textLength="60" lengthAdjust="spacingAndGlyphs">Treatment (30mg/kg)</text>
<rect x="35.9" y="378.5" width="31.5" height="54.7" fill="url(#bgp)"/><path d="M50 16 C56 16 59 22 60 30 C61 38 63 44 67 48 C76 48 84 54 83 62 C83 66 81 68 79 68 C84 86 87 108 89 130 C92 150 94 168 90 180 C89 184 87 187 85 188 L95 195 L96 199 L86 199 L78 191 C68 193 58 193 54 192 L53 200 L47 200 L46 192 C40 193 30 193 22 190 L12 199 L3 199 L5 194 L15 187 C12 183 8 176 8 165 C8 150 10 130 12 112 C14 95 16 80 21 68 C19 68 17 66 17 62 C17 54 24 48 33 48 C37 44 39 38 40 30 C41 22 44 16 50 16 Z" fill="url(#mg)" filter="url(#mb)" transform="translate(35.9,433.2) scale(0.3150,0.2765) translate(0,-200)"/><g filter="url(#bl)"><ellipse cx="42.6" cy="419.7" rx="2.60" ry="2.60" fill="#7010ff"/><ellipse cx="42.6" cy="419.7" rx="2.26" ry="2.26" fill="#1010ff"/><ellipse cx="42.6" cy="419.7" rx="1.92" ry="1.92" fill="#10a8ff"/><ellipse cx="42.6" cy="419.7" rx="1.69" ry="1.69" fill="#30e840"/></g>
<rect x="100.8" y="377.8" width="30.5" height="55.2" fill="url(#bgp)"/><path d="M50 16 C56 16 59 22 60 30 C61 38 63 44 67 48 C76 48 84 54 83 62 C83 66 81 68 79 68 C84 86 87 108 89 130 C92 150 94 168 90 180 C89 184 87 187 85 188 L95 195 L96 199 L86 199 L78 191 C68 193 58 193 54 192 L53 200 L47 200 L46 192 C40 193 30 193 22 190 L12 199 L3 199 L5 194 L15 187 C12 183 8 176 8 165 C8 150 10 130 12 112 C14 95 16 80 21 68 C19 68 17 66 17 62 C17 54 24 48 33 48 C37 44 39 38 40 30 C41 22 44 16 50 16 Z" fill="url(#mg)" filter="url(#mb)" transform="translate(100.8,433.0) scale(0.3050,0.2790) translate(0,-200)"/><g filter="url(#bl)"><ellipse cx="119.9" cy="421.9" rx="4.60" ry="3.60" fill="#7010ff"/><ellipse cx="119.9" cy="421.9" rx="4.00" ry="3.13" fill="#1010ff"/><ellipse cx="119.9" cy="421.9" rx="3.40" ry="2.66" fill="#10a8ff"/><ellipse cx="119.9" cy="421.9" rx="2.99" ry="2.34" fill="#30e840"/></g>
<rect x="136.2" y="377.8" width="32.4" height="55.2" fill="url(#bgp)"/><path d="M50 16 C56 16 59 22 60 30 C61 38 63 44 67 48 C76 48 84 54 83 62 C83 66 81 68 79 68 C84 86 87 108 89 130 C92 150 94 168 90 180 C89 184 87 187 85 188 L95 195 L96 199 L86 199 L78 191 C68 193 58 193 54 192 L53 200 L47 200 L46 192 C40 193 30 193 22 190 L12 199 L3 199 L5 194 L15 187 C12 183 8 176 8 165 C8 150 10 130 12 112 C14 95 16 80 21 68 C19 68 17 66 17 62 C17 54 24 48 33 48 C37 44 39 38 40 30 C41 22 44 16 50 16 Z" fill="url(#mg)" filter="url(#mb)" transform="translate(136.2,433.0) scale(0.3240,0.2790) translate(0,-200)"/><g filter="url(#bl)"><ellipse cx="149.3" cy="421.2" rx="5.00" ry="4.40" fill="#7010ff"/><ellipse cx="149.3" cy="421.2" rx="4.35" ry="3.83" fill="#1010ff"/><ellipse cx="149.3" cy="421.2" rx="3.70" ry="3.26" fill="#10a8ff"/><ellipse cx="149.3" cy="421.2" rx="3.25" ry="2.86" fill="#30e840"/></g>
<rect x="210.9" y="376.9" width="36.9" height="55.2" fill="url(#bgp)"/><path d="M50 16 C56 16 59 22 60 30 C61 38 63 44 67 48 C76 48 84 54 83 62 C83 66 81 68 79 68 C84 86 87 108 89 130 C92 150 94 168 90 180 C89 184 87 187 85 188 L95 195 L96 199 L86 199 L78 191 C68 193 58 193 54 192 L53 200 L47 200 L46 192 C40 193 30 193 22 190 L12 199 L3 199 L5 194 L15 187 C12 183 8 176 8 165 C8 150 10 130 12 112 C14 95 16 80 21 68 C19 68 17 66 17 62 C17 54 24 48 33 48 C37 44 39 38 40 30 C41 22 44 16 50 16 Z" fill="url(#mg)" filter="url(#mb)" transform="translate(210.9,432.1) scale(0.3690,0.2790) translate(0,-200)"/><g filter="url(#bl)"><ellipse cx="223.3" cy="419.5" rx="7.50" ry="5.30" fill="#7010ff"/><ellipse cx="223.3" cy="419.5" rx="6.53" ry="4.61" fill="#1010ff"/><ellipse cx="223.3" cy="419.5" rx="5.55" ry="3.92" fill="#10a8ff"/><ellipse cx="223.3" cy="419.5" rx="4.88" ry="3.44" fill="#30e840"/><ellipse cx="223.3" cy="419.5" rx="2.40" ry="1.70" fill="#d8f020"/><ellipse cx="223.3" cy="419.5" rx="1.28" ry="0.90" fill="#ff3010"/></g>
<rect x="251.2" y="376.9" width="31.5" height="55.2" fill="url(#bgp)"/><path d="M50 16 C56 16 59 22 60 30 C61 38 63 44 67 48 C76 48 84 54 83 62 C83 66 81 68 79 68 C84 86 87 108 89 130 C92 150 94 168 90 180 C89 184 87 187 85 188 L95 195 L96 199 L86 199 L78 191 C68 193 58 193 54 192 L53 200 L47 200 L46 192 C40 193 30 193 22 190 L12 199 L3 199 L5 194 L15 187 C12 183 8 176 8 165 C8 150 10 130 12 112 C14 95 16 80 21 68 C19 68 17 66 17 62 C17 54 24 48 33 48 C37 44 39 38 40 30 C41 22 44 16 50 16 Z" fill="url(#mg)" filter="url(#mb)" transform="translate(251.2,432.1) scale(0.3150,0.2790) translate(0,-200)"/><g filter="url(#bl)"><ellipse cx="262.2" cy="419.3" rx="7.00" ry="6.00" fill="#7010ff"/><ellipse cx="262.2" cy="419.3" rx="6.09" ry="5.22" fill="#1010ff"/><ellipse cx="262.2" cy="419.3" rx="5.18" ry="4.44" fill="#10a8ff"/><ellipse cx="262.2" cy="419.3" rx="4.55" ry="3.90" fill="#30e840"/><ellipse cx="262.2" cy="419.3" rx="2.24" ry="1.92" fill="#d8f020"/><ellipse cx="262.2" cy="419.3" rx="1.19" ry="1.02" fill="#ff3010"/></g>
<rect x="286.7" y="376.9" width="32.3" height="55.2" fill="url(#bgp)"/><path d="M50 16 C56 16 59 22 60 30 C61 38 63 44 67 48 C76 48 84 54 83 62 C83 66 81 68 79 68 C84 86 87 108 89 130 C92 150 94 168 90 180 C89 184 87 187 85 188 L95 195 L96 199 L86 199 L78 191 C68 193 58 193 54 192 L53 200 L47 200 L46 192 C40 193 30 193 22 190 L12 199 L3 199 L5 194 L15 187 C12 183 8 176 8 165 C8 150 10 130 12 112 C14 95 16 80 21 68 C19 68 17 66 17 62 C17 54 24 48 33 48 C37 44 39 38 40 30 C41 22 44 16 50 16 Z" fill="url(#mg)" filter="url(#mb)" transform="translate(286.7,432.1) scale(0.3230,0.2790) translate(0,-200)"/><g filter="url(#bl)"><ellipse cx="300.4" cy="421.2" rx="5.00" ry="5.00" fill="#7010ff"/><ellipse cx="300.4" cy="421.2" rx="4.35" ry="4.35" fill="#1010ff"/><ellipse cx="300.4" cy="421.2" rx="3.70" ry="3.70" fill="#10a8ff"/><ellipse cx="300.4" cy="421.2" rx="3.25" ry="3.25" fill="#30e840"/><ellipse cx="300.4" cy="421.2" rx="1.60" ry="1.60" fill="#d8f020"/><ellipse cx="300.4" cy="421.2" rx="0.85" ry="0.85" fill="#ff3010"/></g>
<rect x="323.1" y="376.9" width="32.6" height="55.2" fill="url(#bgp)"/><path d="M50 16 C56 16 59 22 60 30 C61 38 63 44 67 48 C76 48 84 54 83 62 C83 66 81 68 79 68 C84 86 87 108 89 130 C92 150 94 168 90 180 C89 184 87 187 85 188 L95 195 L96 199 L86 199 L78 191 C68 193 58 193 54 192 L53 200 L47 200 L46 192 C40 193 30 193 22 190 L12 199 L3 199 L5 194 L15 187 C12 183 8 176 8 165 C8 150 10 130 12 112 C14 95 16 80 21 68 C19 68 17 66 17 62 C17 54 24 48 33 48 C37 44 39 38 40 30 C41 22 44 16 50 16 Z" fill="url(#mg)" filter="url(#mb)" transform="translate(323.1,432.1) scale(0.3260,0.2790) translate(0,-200)"/><g filter="url(#bl)"><ellipse cx="338.9" cy="419.3" rx="8.00" ry="6.20" fill="#7010ff"/><ellipse cx="338.9" cy="419.3" rx="6.96" ry="5.39" fill="#1010ff"/><ellipse cx="338.9" cy="419.3" rx="5.92" ry="4.59" fill="#10a8ff"/><ellipse cx="338.9" cy="419.3" rx="5.20" ry="4.03" fill="#30e840"/><ellipse cx="338.9" cy="419.3" rx="2.56" ry="1.98" fill="#d8f020"/><ellipse cx="338.9" cy="419.3" rx="1.36" ry="1.05" fill="#ff3010"/></g>
<rect x="40.3" y="454.2" width="31.5" height="62.5" fill="url(#bgp)"/><path d="M50 16 C56 16 59 22 60 30 C61 38 63 44 67 48 C76 48 84 54 83 62 C83 66 81 68 79 68 C84 86 87 108 89 130 C92 150 94 168 90 180 C89 184 87 187 85 188 L95 195 L96 199 L86 199 L78 191 C68 193 58 193 54 192 L53 200 L47 200 L46 192 C40 193 30 193 22 190 L12 199 L3 199 L5 194 L15 187 C12 183 8 176 8 165 C8 150 10 130 12 112 C14 95 16 80 21 68 C19 68 17 66 17 62 C17 54 24 48 33 48 C37 44 39 38 40 30 C41 22 44 16 50 16 Z" fill="url(#mg)" filter="url(#mb)" transform="translate(40.3,516.7) scale(0.3150,0.3125) translate(0,-200)"/><g filter="url(#bl)"><ellipse cx="50.8" cy="501.5" rx="3.00" ry="3.00" fill="#7010ff"/><ellipse cx="50.8" cy="501.5" rx="2.61" ry="2.61" fill="#1010ff"/><ellipse cx="50.8" cy="501.5" rx="2.22" ry="2.22" fill="#10a8ff"/><ellipse cx="50.8" cy="501.5" rx="1.95" ry="1.95" fill="#30e840"/><ellipse cx="50.8" cy="501.5" rx="0.96" ry="0.96" fill="#d8f020"/></g>
<rect x="101.0" y="454.9" width="31.7" height="61.1" fill="url(#bgp)"/><path d="M50 16 C56 16 59 22 60 30 C61 38 63 44 67 48 C76 48 84 54 83 62 C83 66 81 68 79 68 C84 86 87 108 89 130 C92 150 94 168 90 180 C89 184 87 187 85 188 L95 195 L96 199 L86 199 L78 191 C68 193 58 193 54 192 L53 200 L47 200 L46 192 C40 193 30 193 22 190 L12 199 L3 199 L5 194 L15 187 C12 183 8 176 8 165 C8 150 10 130 12 112 C14 95 16 80 21 68 C19 68 17 66 17 62 C17 54 24 48 33 48 C37 44 39 38 40 30 C41 22 44 16 50 16 Z" fill="url(#mg)" filter="url(#mb)" transform="translate(101.0,516.0) scale(0.3170,0.3055) translate(0,-200)"/><g filter="url(#bl)"><ellipse cx="117.2" cy="503.7" rx="4.80" ry="3.80" fill="#7010ff"/><ellipse cx="117.2" cy="503.7" rx="4.18" ry="3.31" fill="#1010ff"/><ellipse cx="117.2" cy="503.7" rx="3.55" ry="2.81" fill="#10a8ff"/><ellipse cx="117.2" cy="503.7" rx="3.12" ry="2.47" fill="#30e840"/></g>
<rect x="135.6" y="454.9" width="37.4" height="61.1" fill="url(#bgp)"/><path d="M50 16 C56 16 59 22 60 30 C61 38 63 44 67 48 C76 48 84 54 83 62 C83 66 81 68 79 68 C84 86 87 108 89 130 C92 150 94 168 90 180 C89 184 87 187 85 188 L95 195 L96 199 L86 199 L78 191 C68 193 58 193 54 192 L53 200 L47 200 L46 192 C40 193 30 193 22 190 L12 199 L3 199 L5 194 L15 187 C12 183 8 176 8 165 C8 150 10 130 12 112 C14 95 16 80 21 68 C19 68 17 66 17 62 C17 54 24 48 33 48 C37 44 39 38 40 30 C41 22 44 16 50 16 Z" fill="url(#mg)" filter="url(#mb)" transform="translate(135.6,516.0) scale(0.3740,0.3055) translate(0,-200)"/><g filter="url(#bl)"><ellipse cx="149.0" cy="504.4" rx="5.20" ry="5.00" fill="#7010ff"/><ellipse cx="149.0" cy="504.4" rx="4.52" ry="4.35" fill="#1010ff"/><ellipse cx="149.0" cy="504.4" rx="3.85" ry="3.70" fill="#10a8ff"/><ellipse cx="149.0" cy="504.4" rx="3.38" ry="3.25" fill="#30e840"/></g>
<rect x="211.4" y="454.5" width="34.6" height="61.5" fill="url(#bgp)"/><path d="M50 16 C56 16 59 22 60 30 C61 38 63 44 67 48 C76 48 84 54 83 62 C83 66 81 68 79 68 C84 86 87 108 89 130 C92 150 94 168 90 180 C89 184 87 187 85 188 L95 195 L96 199 L86 199 L78 191 C68 193 58 193 54 192 L53 200 L47 200 L46 192 C40 193 30 193 22 190 L12 199 L3 199 L5 194 L15 187 C12 183 8 176 8 165 C8 150 10 130 12 112 C14 95 16 80 21 68 C19 68 17 66 17 62 C17 54 24 48 33 48 C37 44 39 38 40 30 C41 22 44 16 50 16 Z" fill="url(#mg)" filter="url(#mb)" transform="translate(211.4,516.0) scale(0.3460,0.3075) translate(0,-200)"/><g filter="url(#bl)"><ellipse cx="226.0" cy="504.2" rx="7.00" ry="6.80" fill="#7010ff"/><ellipse cx="226.0" cy="504.2" rx="6.09" ry="5.92" fill="#1010ff"/><ellipse cx="226.0" cy="504.2" rx="5.18" ry="5.03" fill="#10a8ff"/><ellipse cx="226.0" cy="504.2" rx="4.55" ry="4.42" fill="#30e840"/><ellipse cx="226.0" cy="504.2" rx="2.24" ry="2.18" fill="#d8f020"/></g>
<rect x="248.5" y="454.5" width="36.5" height="61.5" fill="url(#bgp)"/><path d="M50 16 C56 16 59 22 60 30 C61 38 63 44 67 48 C76 48 84 54 83 62 C83 66 81 68 79 68 C84 86 87 108 89 130 C92 150 94 168 90 180 C89 184 87 187 85 188 L95 195 L96 199 L86 199 L78 191 C68 193 58 193 54 192 L53 200 L47 200 L46 192 C40 193 30 193 22 190 L12 199 L3 199 L5 194 L15 187 C12 183 8 176 8 165 C8 150 10 130 12 112 C14 95 16 80 21 68 C19 68 17 66 17 62 C17 54 24 48 33 48 C37 44 39 38 40 30 C41 22 44 16 50 16 Z" fill="url(#mg)" filter="url(#mb)" transform="translate(248.5,516.0) scale(0.3650,0.3075) translate(0,-200)"/><g filter="url(#bl)"><ellipse cx="260.6" cy="502.5" rx="5.10" ry="5.10" fill="#7010ff"/><ellipse cx="260.6" cy="502.5" rx="4.44" ry="4.44" fill="#1010ff"/><ellipse cx="260.6" cy="502.5" rx="3.77" ry="3.77" fill="#10a8ff"/><ellipse cx="260.6" cy="502.5" rx="3.31" ry="3.31" fill="#30e840"/><ellipse cx="260.6" cy="502.5" rx="1.63" ry="1.63" fill="#d8f020"/></g>
<rect x="287.0" y="454.5" width="36.0" height="61.5" fill="url(#bgp)"/><path d="M50 16 C56 16 59 22 60 30 C61 38 63 44 67 48 C76 48 84 54 83 62 C83 66 81 68 79 68 C84 86 87 108 89 130 C92 150 94 168 90 180 C89 184 87 187 85 188 L95 195 L96 199 L86 199 L78 191 C68 193 58 193 54 192 L53 200 L47 200 L46 192 C40 193 30 193 22 190 L12 199 L3 199 L5 194 L15 187 C12 183 8 176 8 165 C8 150 10 130 12 112 C14 95 16 80 21 68 C19 68 17 66 17 62 C17 54 24 48 33 48 C37 44 39 38 40 30 C41 22 44 16 50 16 Z" fill="url(#mg)" filter="url(#mb)" transform="translate(287.0,516.0) scale(0.3600,0.3075) translate(0,-200)"/><g filter="url(#bl)"><ellipse cx="300.0" cy="503.6" rx="7.50" ry="6.80" fill="#7010ff"/><ellipse cx="300.0" cy="503.6" rx="6.53" ry="5.92" fill="#1010ff"/><ellipse cx="300.0" cy="503.6" rx="5.55" ry="5.03" fill="#10a8ff"/><ellipse cx="300.0" cy="503.6" rx="4.88" ry="4.42" fill="#30e840"/><ellipse cx="300.0" cy="503.6" rx="2.40" ry="2.18" fill="#d8f020"/></g>
<rect x="324.2" y="454.5" width="33.3" height="61.5" fill="url(#bgp)"/><path d="M50 16 C56 16 59 22 60 30 C61 38 63 44 67 48 C76 48 84 54 83 62 C83 66 81 68 79 68 C84 86 87 108 89 130 C92 150 94 168 90 180 C89 184 87 187 85 188 L95 195 L96 199 L86 199 L78 191 C68 193 58 193 54 192 L53 200 L47 200 L46 192 C40 193 30 193 22 190 L12 199 L3 199 L5 194 L15 187 C12 183 8 176 8 165 C8 150 10 130 12 112 C14 95 16 80 21 68 C19 68 17 66 17 62 C17 54 24 48 33 48 C37 44 39 38 40 30 C41 22 44 16 50 16 Z" fill="url(#mg)" filter="url(#mb)" transform="translate(324.2,516.0) scale(0.3330,0.3075) translate(0,-200)"/><g filter="url(#bl)"><ellipse cx="337.7" cy="501.5" rx="9.50" ry="6.40" fill="#7010ff"/><ellipse cx="337.7" cy="501.5" rx="8.27" ry="5.57" fill="#1010ff"/><ellipse cx="337.7" cy="501.5" rx="7.03" ry="4.74" fill="#10a8ff"/><ellipse cx="337.7" cy="501.5" rx="6.17" ry="4.16" fill="#30e840"/><ellipse cx="337.7" cy="501.5" rx="3.04" ry="2.05" fill="#d8f020"/><ellipse cx="337.7" cy="501.5" rx="1.62" ry="1.09" fill="#ff3010"/></g>
<text x="115.1" y="374.7" font-size="6.3" font-weight="bold" text-anchor="middle" fill="#111" textLength="18.5" lengthAdjust="spacingAndGlyphs">Day 2</text>
<text x="152.5" y="374.7" font-size="6.3" font-weight="bold" text-anchor="middle" fill="#111" textLength="18.5" lengthAdjust="spacingAndGlyphs">Day 8</text>
<text x="226.8" y="374.7" font-size="6.3" font-weight="bold" text-anchor="middle" fill="#111" textLength="22.8" lengthAdjust="spacingAndGlyphs">Day 10</text>
<text x="265.7" y="374.7" font-size="6.3" font-weight="bold" text-anchor="middle" fill="#111" textLength="22.8" lengthAdjust="spacingAndGlyphs">Day 16</text>
<text x="301.1" y="374.7" font-size="6.3" font-weight="bold" text-anchor="middle" fill="#111" textLength="22.8" lengthAdjust="spacingAndGlyphs">Day 18</text>
<text x="336.3" y="374.7" font-size="6.3" font-weight="bold" text-anchor="middle" fill="#111" textLength="22.8" lengthAdjust="spacingAndGlyphs">Day 22</text>
<text x="117.2" y="451.2" font-size="6.3" font-weight="bold" text-anchor="middle" fill="#111" textLength="18.5" lengthAdjust="spacingAndGlyphs">Day 2</text>
<text x="153.7" y="451.2" font-size="6.3" font-weight="bold" text-anchor="middle" fill="#111" textLength="18.5" lengthAdjust="spacingAndGlyphs">Day 8</text>
<text x="228.0" y="451.2" font-size="6.3" font-weight="bold" text-anchor="middle" fill="#111" textLength="22.8" lengthAdjust="spacingAndGlyphs">Day 10</text>
<text x="266.2" y="451.2" font-size="6.3" font-weight="bold" text-anchor="middle" fill="#111" textLength="22.8" lengthAdjust="spacingAndGlyphs">Day 16</text>
<text x="299.9" y="451.2" font-size="6.3" font-weight="bold" text-anchor="middle" fill="#111" textLength="22.8" lengthAdjust="spacingAndGlyphs">Day 18</text>
<text x="336.8" y="451.2" font-size="6.3" font-weight="bold" text-anchor="middle" fill="#111" textLength="22.8" lengthAdjust="spacingAndGlyphs">Day 22</text>
<line x1="356.4" y1="454.5" x2="356.4" y2="516" stroke="#2020ff" stroke-width="0.8"/>
<rect x="77" y="380.3" width="4.0" height="123.4" fill="url(#cb)"/><line x1="81" y1="384.4" x2="82.6" y2="384.4" stroke="#555" stroke-width="0.45"/><text x="85.8" y="385.5" font-size="3" fill="#444">1.6</text><line x1="81" y1="388.1" x2="82" y2="388.1" stroke="#888" stroke-width="0.35"/><line x1="81" y1="391.8" x2="82" y2="391.8" stroke="#888" stroke-width="0.35"/><line x1="81" y1="395.6" x2="82" y2="395.6" stroke="#888" stroke-width="0.35"/><line x1="81" y1="399.3" x2="82" y2="399.3" stroke="#888" stroke-width="0.35"/><line x1="81" y1="403.0" x2="82.6" y2="403.0" stroke="#555" stroke-width="0.45"/><text x="85.8" y="404.1" font-size="3" fill="#444">1.2</text><line x1="81" y1="406.7" x2="82" y2="406.7" stroke="#888" stroke-width="0.35"/><line x1="81" y1="410.5" x2="82" y2="410.5" stroke="#888" stroke-width="0.35"/><line x1="81" y1="414.2" x2="82" y2="414.2" stroke="#888" stroke-width="0.35"/><line x1="81" y1="417.9" x2="82" y2="417.9" stroke="#888" stroke-width="0.35"/><line x1="81" y1="421.6" x2="82.6" y2="421.6" stroke="#555" stroke-width="0.45"/><text x="85.8" y="422.7" font-size="3" fill="#444">1.0</text><line x1="81" y1="425.4" x2="82" y2="425.4" stroke="#888" stroke-width="0.35"/><line x1="81" y1="429.1" x2="82" y2="429.1" stroke="#888" stroke-width="0.35"/><line x1="81" y1="432.8" x2="82" y2="432.8" stroke="#888" stroke-width="0.35"/><line x1="81" y1="436.5" x2="82" y2="436.5" stroke="#888" stroke-width="0.35"/><line x1="81" y1="440.3" x2="82.6" y2="440.3" stroke="#555" stroke-width="0.45"/><text x="85.8" y="441.4" font-size="3" fill="#444">0.8</text><line x1="81" y1="444.0" x2="82" y2="444.0" stroke="#888" stroke-width="0.35"/><line x1="81" y1="447.7" x2="82" y2="447.7" stroke="#888" stroke-width="0.35"/><line x1="81" y1="451.5" x2="82" y2="451.5" stroke="#888" stroke-width="0.35"/><line x1="81" y1="455.2" x2="82" y2="455.2" stroke="#888" stroke-width="0.35"/><line x1="81" y1="458.9" x2="82.6" y2="458.9" stroke="#555" stroke-width="0.45"/><text x="85.8" y="460.0" font-size="3" fill="#444">0.6</text><line x1="81" y1="462.6" x2="82" y2="462.6" stroke="#888" stroke-width="0.35"/><line x1="81" y1="466.4" x2="82" y2="466.4" stroke="#888" stroke-width="0.35"/><line x1="81" y1="470.1" x2="82" y2="470.1" stroke="#888" stroke-width="0.35"/><line x1="81" y1="473.8" x2="82" y2="473.8" stroke="#888" stroke-width="0.35"/><line x1="81" y1="477.5" x2="82.6" y2="477.5" stroke="#555" stroke-width="0.45"/><text x="85.8" y="478.6" font-size="3" fill="#444">0.4</text><line x1="81" y1="481.3" x2="82" y2="481.3" stroke="#888" stroke-width="0.35"/><line x1="81" y1="485.0" x2="82" y2="485.0" stroke="#888" stroke-width="0.35"/><line x1="81" y1="488.7" x2="82" y2="488.7" stroke="#888" stroke-width="0.35"/><line x1="81" y1="492.4" x2="82" y2="492.4" stroke="#888" stroke-width="0.35"/><line x1="81" y1="496.2" x2="82.6" y2="496.2" stroke="#555" stroke-width="0.45"/><text x="85.8" y="497.3" font-size="3" fill="#444">0.2</text><line x1="81" y1="499.9" x2="82" y2="499.9" stroke="#888" stroke-width="0.35"/><line x1="81" y1="503.6" x2="82" y2="503.6" stroke="#888" stroke-width="0.35"/><text x="91.5" y="442.1" font-size="3" fill="#444">x10<tspan dy="-1.2" font-size="2.2">7</tspan></text><text x="77" y="506.6" font-size="2.6" fill="#555">Radiance</text><text x="77" y="509.3" font-size="2.6" fill="#555">(p/sec/cm²/sr)</text><rect x="76.7" y="511.5" width="21.3" height="9.8" fill="#fff" stroke="#666" stroke-width="0.6"/><text x="77.9" y="514.6" font-size="2.6" fill="#444">Color Scale</text><text x="77.9" y="517.6" font-size="2.6" fill="#444">Min = 5.0e5</text><text x="77.9" y="520.5" font-size="2.6" fill="#444">Max = 1.3e6</text>
<rect x="181.7" y="369" width="3.8" height="139.0" fill="url(#cb)"/><line x1="185.5" y1="373.6" x2="187.1" y2="373.6" stroke="#555" stroke-width="0.45"/><text x="190.3" y="374.7" font-size="3" fill="#444">1.6</text><line x1="185.5" y1="377.8" x2="186.5" y2="377.8" stroke="#888" stroke-width="0.35"/><line x1="185.5" y1="382.0" x2="186.5" y2="382.0" stroke="#888" stroke-width="0.35"/><line x1="185.5" y1="386.2" x2="186.5" y2="386.2" stroke="#888" stroke-width="0.35"/><line x1="185.5" y1="390.4" x2="186.5" y2="390.4" stroke="#888" stroke-width="0.35"/><line x1="185.5" y1="394.6" x2="187.1" y2="394.6" stroke="#555" stroke-width="0.45"/><text x="190.3" y="395.7" font-size="3" fill="#444">1.2</text><line x1="185.5" y1="398.8" x2="186.5" y2="398.8" stroke="#888" stroke-width="0.35"/><line x1="185.5" y1="403.0" x2="186.5" y2="403.0" stroke="#888" stroke-width="0.35"/><line x1="185.5" y1="407.2" x2="186.5" y2="407.2" stroke="#888" stroke-width="0.35"/><line x1="185.5" y1="411.4" x2="186.5" y2="411.4" stroke="#888" stroke-width="0.35"/><line x1="185.5" y1="415.6" x2="187.1" y2="415.6" stroke="#555" stroke-width="0.45"/><text x="190.3" y="416.7" font-size="3" fill="#444">1.0</text><line x1="185.5" y1="419.8" x2="186.5" y2="419.8" stroke="#888" stroke-width="0.35"/><line x1="185.5" y1="424.0" x2="186.5" y2="424.0" stroke="#888" stroke-width="0.35"/><line x1="185.5" y1="428.2" x2="186.5" y2="428.2" stroke="#888" stroke-width="0.35"/><line x1="185.5" y1="432.4" x2="186.5" y2="432.4" stroke="#888" stroke-width="0.35"/><line x1="185.5" y1="436.6" x2="187.1" y2="436.6" stroke="#555" stroke-width="0.45"/><text x="190.3" y="437.7" font-size="3" fill="#444">0.8</text><line x1="185.5" y1="440.8" x2="186.5" y2="440.8" stroke="#888" stroke-width="0.35"/><line x1="185.5" y1="444.9" x2="186.5" y2="444.9" stroke="#888" stroke-width="0.35"/><line x1="185.5" y1="449.1" x2="186.5" y2="449.1" stroke="#888" stroke-width="0.35"/><line x1="185.5" y1="453.3" x2="186.5" y2="453.3" stroke="#888" stroke-width="0.35"/><line x1="185.5" y1="457.5" x2="187.1" y2="457.5" stroke="#555" stroke-width="0.45"/><text x="190.3" y="458.6" font-size="3" fill="#444">0.6</text><line x1="185.5" y1="461.7" x2="186.5" y2="461.7" stroke="#888" stroke-width="0.35"/><line x1="185.5" y1="465.9" x2="186.5" y2="465.9" stroke="#888" stroke-width="0.35"/><line x1="185.5" y1="470.1" x2="186.5" y2="470.1" stroke="#888" stroke-width="0.35"/><line x1="185.5" y1="474.3" x2="186.5" y2="474.3" stroke="#888" stroke-width="0.35"/><line x1="185.5" y1="478.5" x2="187.1" y2="478.5" stroke="#555" stroke-width="0.45"/><text x="190.3" y="479.6" font-size="3" fill="#444">0.4</text><line x1="185.5" y1="482.7" x2="186.5" y2="482.7" stroke="#888" stroke-width="0.35"/><line x1="185.5" y1="486.9" x2="186.5" y2="486.9" stroke="#888" stroke-width="0.35"/><line x1="185.5" y1="491.1" x2="186.5" y2="491.1" stroke="#888" stroke-width="0.35"/><line x1="185.5" y1="495.3" x2="186.5" y2="495.3" stroke="#888" stroke-width="0.35"/><line x1="185.5" y1="499.5" x2="187.1" y2="499.5" stroke="#555" stroke-width="0.45"/><text x="190.3" y="500.6" font-size="3" fill="#444">0.2</text><line x1="185.5" y1="503.7" x2="186.5" y2="503.7" stroke="#888" stroke-width="0.35"/><line x1="185.5" y1="507.9" x2="186.5" y2="507.9" stroke="#888" stroke-width="0.35"/><text x="196.0" y="438.4" font-size="3" fill="#444">x10<tspan dy="-1.2" font-size="2.2">7</tspan></text><text x="181.7" y="510.9" font-size="2.6" fill="#555">Radiance</text><text x="181.7" y="513.6" font-size="2.6" fill="#555">(p/sec/cm²/sr)</text><rect x="180.8" y="517.3" width="24.2" height="11.4" fill="#fff" stroke="#666" stroke-width="0.6"/><text x="182.0" y="520.9" font-size="2.6" fill="#444">Color Scale</text><text x="182.0" y="524.4" font-size="2.6" fill="#444">Min = 5.0e5</text><text x="182.0" y="527.8" font-size="2.6" fill="#444">Max = 1.3e6</text>
<rect x="362.2" y="370.4" width="3.8" height="137.0" fill="url(#cb)"/><line x1="366" y1="374.9" x2="367.6" y2="374.9" stroke="#555" stroke-width="0.45"/><text x="370.8" y="376.0" font-size="3" fill="#444">1.6</text><line x1="366" y1="379.1" x2="367" y2="379.1" stroke="#888" stroke-width="0.35"/><line x1="366" y1="383.2" x2="367" y2="383.2" stroke="#888" stroke-width="0.35"/><line x1="366" y1="387.3" x2="367" y2="387.3" stroke="#888" stroke-width="0.35"/><line x1="366" y1="391.5" x2="367" y2="391.5" stroke="#888" stroke-width="0.35"/><line x1="366" y1="395.6" x2="367.6" y2="395.6" stroke="#555" stroke-width="0.45"/><text x="370.8" y="396.7" font-size="3" fill="#444">1.2</text><line x1="366" y1="399.7" x2="367" y2="399.7" stroke="#888" stroke-width="0.35"/><line x1="366" y1="403.9" x2="367" y2="403.9" stroke="#888" stroke-width="0.35"/><line x1="366" y1="408.0" x2="367" y2="408.0" stroke="#888" stroke-width="0.35"/><line x1="366" y1="412.2" x2="367" y2="412.2" stroke="#888" stroke-width="0.35"/><line x1="366" y1="416.3" x2="367.6" y2="416.3" stroke="#555" stroke-width="0.45"/><text x="370.8" y="417.4" font-size="3" fill="#444">1.0</text><line x1="366" y1="420.4" x2="367" y2="420.4" stroke="#888" stroke-width="0.35"/><line x1="366" y1="424.6" x2="367" y2="424.6" stroke="#888" stroke-width="0.35"/><line x1="366" y1="428.7" x2="367" y2="428.7" stroke="#888" stroke-width="0.35"/><line x1="366" y1="432.8" x2="367" y2="432.8" stroke="#888" stroke-width="0.35"/><line x1="366" y1="437.0" x2="367.6" y2="437.0" stroke="#555" stroke-width="0.45"/><text x="370.8" y="438.1" font-size="3" fill="#444">0.8</text><line x1="366" y1="441.1" x2="367" y2="441.1" stroke="#888" stroke-width="0.35"/><line x1="366" y1="445.3" x2="367" y2="445.3" stroke="#888" stroke-width="0.35"/><line x1="366" y1="449.4" x2="367" y2="449.4" stroke="#888" stroke-width="0.35"/><line x1="366" y1="453.5" x2="367" y2="453.5" stroke="#888" stroke-width="0.35"/><line x1="366" y1="457.7" x2="367.6" y2="457.7" stroke="#555" stroke-width="0.45"/><text x="370.8" y="458.8" font-size="3" fill="#444">0.6</text><line x1="366" y1="461.8" x2="367" y2="461.8" stroke="#888" stroke-width="0.35"/><line x1="366" y1="465.9" x2="367" y2="465.9" stroke="#888" stroke-width="0.35"/><line x1="366" y1="470.1" x2="367" y2="470.1" stroke="#888" stroke-width="0.35"/><line x1="366" y1="474.2" x2="367" y2="474.2" stroke="#888" stroke-width="0.35"/><line x1="366" y1="478.4" x2="367.6" y2="478.4" stroke="#555" stroke-width="0.45"/><text x="370.8" y="479.5" font-size="3" fill="#444">0.4</text><line x1="366" y1="482.5" x2="367" y2="482.5" stroke="#888" stroke-width="0.35"/><line x1="366" y1="486.6" x2="367" y2="486.6" stroke="#888" stroke-width="0.35"/><line x1="366" y1="490.8" x2="367" y2="490.8" stroke="#888" stroke-width="0.35"/><line x1="366" y1="494.9" x2="367" y2="494.9" stroke="#888" stroke-width="0.35"/><line x1="366" y1="499.0" x2="367.6" y2="499.0" stroke="#555" stroke-width="0.45"/><text x="370.8" y="500.1" font-size="3" fill="#444">0.2</text><line x1="366" y1="503.2" x2="367" y2="503.2" stroke="#888" stroke-width="0.35"/><line x1="366" y1="507.3" x2="367" y2="507.3" stroke="#888" stroke-width="0.35"/><text x="376.5" y="438.8" font-size="3" fill="#444">x10<tspan dy="-1.2" font-size="2.2">7</tspan></text><text x="362.2" y="510.3" font-size="2.6" fill="#555">Radiance</text><text x="362.2" y="513.0" font-size="2.6" fill="#555">(p/sec/cm²/sr)</text><rect x="362" y="516" width="23.3" height="11.0" fill="#fff" stroke="#666" stroke-width="0.6"/><text x="363.2" y="519.5" font-size="2.6" fill="#444">Color Scale</text><text x="363.2" y="522.8" font-size="2.6" fill="#444">Min = 5.0e5</text><text x="363.2" y="526.1" font-size="2.6" fill="#444">Max = 1.3e6</text>
<rect x="101.7" y="517" width="71.99999999999999" height="11" fill="url(#dg)" stroke="#8a8a8a" stroke-width="0.6"/><text x="108.7" y="525.0" font-size="7" font-weight="bold" fill="#ffffff" textLength="22.2" lengthAdjust="spacingAndGlyphs">Dose 1</text>
<rect x="210.8" y="517" width="73.59999999999997" height="10.5" fill="url(#dg)" stroke="#8a8a8a" stroke-width="0.6"/><text x="213.20000000000002" y="524.8" font-size="7" font-weight="bold" fill="#ffffff" textLength="22.8" lengthAdjust="spacingAndGlyphs">Dose 2</text>
<rect x="285.6" y="516.5" width="73.09999999999997" height="11.700000000000045" fill="url(#dg)" stroke="#8a8a8a" stroke-width="0.6"/><text x="291.90000000000003" y="524.9" font-size="7" font-weight="bold" fill="#ffffff" textLength="22.4" lengthAdjust="spacingAndGlyphs">Dose 3</text>
<text x="433.3" y="13.9" font-size="12.8" font-weight="normal" text-anchor="start" fill="#111" >B</text>
<circle cx="486.8" cy="21.5" r="2.6" fill="#1515ff"/>
<text x="493" y="24.4" font-size="8.2" font-weight="bold" fill="#111" textLength="66.7" lengthAdjust="spacingAndGlyphs">H2-WT-Untreated</text>
<rect x="586.5" y="19.5" width="5" height="5" fill="#f02020"/>
<text x="595" y="21" font-size="8.2" font-weight="bold" fill="#111" textLength="88" lengthAdjust="spacingAndGlyphs">H2-WT-Trastuzumab-tr</text>
<text x="639.0" y="29.6" font-size="8.2" font-weight="bold" text-anchor="middle" fill="#111" >eated</text>
<line x1="475.4" y1="29.1" x2="475.4" y2="152" stroke="#333" stroke-width="1"/><line x1="475.4" y1="152" x2="681.5" y2="152" stroke="#333" stroke-width="1"/><line x1="473.4" y1="29.6" x2="475.4" y2="29.6" stroke="#333" stroke-width="0.7"/><text x="472.4" y="32.1" font-size="7.3" font-weight="bold" text-anchor="end" fill="#111">10<tspan dy="-2.9" font-size="4.6">4</tspan></text><line x1="473.4" y1="50.0" x2="475.4" y2="50.0" stroke="#333" stroke-width="0.7"/><text x="472.4" y="52.5" font-size="7.3" font-weight="bold" text-anchor="end" fill="#111">10<tspan dy="-2.9" font-size="4.6">3</tspan></text><line x1="473.4" y1="70.4" x2="475.4" y2="70.4" stroke="#333" stroke-width="0.7"/><text x="472.4" y="72.9" font-size="7.3" font-weight="bold" text-anchor="end" fill="#111">10<tspan dy="-2.9" font-size="4.6">2</tspan></text><line x1="473.4" y1="90.8" x2="475.4" y2="90.8" stroke="#333" stroke-width="0.7"/><text x="472.4" y="93.3" font-size="7.3" font-weight="bold" text-anchor="end" fill="#111">10<tspan dy="-2.9" font-size="4.6">1</tspan></text><line x1="473.4" y1="111.2" x2="475.4" y2="111.2" stroke="#333" stroke-width="0.7"/><text x="472.4" y="113.7" font-size="7.3" font-weight="bold" text-anchor="end" fill="#111">10<tspan dy="-2.9" font-size="4.6">0</tspan></text><line x1="473.4" y1="131.6" x2="475.4" y2="131.6" stroke="#333" stroke-width="0.7"/><text x="472.4" y="134.1" font-size="7.3" font-weight="bold" text-anchor="end" fill="#111">10<tspan dy="-2.9" font-size="4.6">-1</tspan></text><line x1="473.4" y1="152.0" x2="475.4" y2="152.0" stroke="#333" stroke-width="0.7"/><text x="472.4" y="154.5" font-size="7.3" font-weight="bold" text-anchor="end" fill="#111">10<tspan dy="-2.9" font-size="4.6">-2</tspan></text><line x1="490.5" y1="152" x2="490.5" y2="154.2" stroke="#333" stroke-width="0.7"/><text transform="translate(493.9,160.4) rotate(-40)" font-size="7.4" font-weight="bold" text-anchor="end" fill="#111">Day1-PI</text><line x1="512.57" y1="152" x2="512.57" y2="154.2" stroke="#333" stroke-width="0.7"/><text transform="translate(516.0,160.4) rotate(-40)" font-size="7.4" font-weight="bold" text-anchor="end" fill="#111">Day2</text><line x1="534.64" y1="152" x2="534.64" y2="154.2" stroke="#333" stroke-width="0.7"/><text transform="translate(538.0,160.4) rotate(-40)" font-size="7.4" font-weight="bold" text-anchor="end" fill="#111">Day8</text><line x1="556.71" y1="152" x2="556.71" y2="154.2" stroke="#333" stroke-width="0.7"/><text transform="translate(560.1,160.4) rotate(-40)" font-size="7.4" font-weight="bold" text-anchor="end" fill="#111">Day10</text><line x1="578.78" y1="152" x2="578.78" y2="154.2" stroke="#333" stroke-width="0.7"/><text transform="translate(582.2,160.4) rotate(-40)" font-size="7.4" font-weight="bold" text-anchor="end" fill="#111">Day16</text><line x1="600.85" y1="152" x2="600.85" y2="154.2" stroke="#333" stroke-width="0.7"/><text transform="translate(604.2,160.4) rotate(-40)" font-size="7.4" font-weight="bold" text-anchor="end" fill="#111">Day18</text><line x1="622.9200000000001" y1="152" x2="622.9200000000001" y2="154.2" stroke="#333" stroke-width="0.7"/><text transform="translate(626.3,160.4) rotate(-40)" font-size="7.4" font-weight="bold" text-anchor="end" fill="#111">Day22</text><line x1="644.99" y1="152" x2="644.99" y2="154.2" stroke="#333" stroke-width="0.7"/><text transform="translate(648.4,160.4) rotate(-40)" font-size="7.4" font-weight="bold" text-anchor="end" fill="#111">Day30</text><line x1="667.06" y1="152" x2="667.06" y2="154.2" stroke="#333" stroke-width="0.7"/><text transform="translate(670.5,160.4) rotate(-40)" font-size="7.4" font-weight="bold" text-anchor="end" fill="#111">Day41</text><rect x="495.7" y="150.5" width="6" height="3" fill="#fff"/><line x1="495.4" y1="156.5" x2="498.4" y2="148.5" stroke="#111" stroke-width="1.2"/><line x1="499.0" y1="156.5" x2="502.0" y2="148.5" stroke="#111" stroke-width="1.2"/><text x="517.0" y="148.6" font-size="6.2" font-weight="bold" text-anchor="middle" fill="#333" >Dose1</text><text x="561.3" y="148.6" font-size="6.2" font-weight="bold" text-anchor="middle" fill="#333" >Dose2</text><text x="604.7" y="148.6" font-size="6.2" font-weight="bold" text-anchor="middle" fill="#333" >Dose3</text><text x="654.3" y="148.6" font-size="6.2" font-weight="bold" text-anchor="middle" fill="#333" >Follow-up</text><polyline points="490.5,111.3 512.4,107.6 534.4,111.3 556.6,112.7 578.7,113.7 600.8,116.4 622.7,121.5 645.1,112.1 667.0,110.2" fill="none" stroke="#f04040" stroke-width="0.8"/><polyline points="490.5,111.3 512.4,110.2 534.4,108.6 556.6,94.6 578.7,85.8 600.8,77.7 622.7,61.3 645.1,58.7 667.0,56.8" fill="none" stroke="#5050ff" stroke-width="0.8"/><line x1="556.6" y1="108.2" x2="556.6" y2="117.2" stroke="#333" stroke-width="0.9"/><line x1="554.6" y1="108.2" x2="558.6" y2="108.2" stroke="#333" stroke-width="0.9"/><line x1="554.6" y1="117.2" x2="558.6" y2="117.2" stroke="#333" stroke-width="0.9"/><line x1="578.7" y1="109.2" x2="578.7" y2="118.4" stroke="#333" stroke-width="0.9"/><line x1="576.7" y1="109.2" x2="580.7" y2="109.2" stroke="#333" stroke-width="0.9"/><line x1="576.7" y1="118.4" x2="580.7" y2="118.4" stroke="#333" stroke-width="0.9"/><line x1="600.8" y1="111.7" x2="600.8" y2="120.9" stroke="#333" stroke-width="0.9"/><line x1="598.8" y1="111.7" x2="602.8" y2="111.7" stroke="#333" stroke-width="0.9"/><line x1="598.8" y1="120.9" x2="602.8" y2="120.9" stroke="#333" stroke-width="0.9"/><line x1="622.7" y1="113.3" x2="622.7" y2="129" stroke="#333" stroke-width="0.9"/><line x1="620.7" y1="113.3" x2="624.7" y2="113.3" stroke="#333" stroke-width="0.9"/><line x1="620.7" y1="129" x2="624.7" y2="129" stroke="#333" stroke-width="0.9"/><line x1="645.1" y1="101" x2="645.1" y2="122.9" stroke="#333" stroke-width="0.9"/><line x1="643.1" y1="101" x2="647.1" y2="101" stroke="#333" stroke-width="0.9"/><line x1="643.1" y1="122.9" x2="647.1" y2="122.9" stroke="#333" stroke-width="0.9"/><line x1="667" y1="100" x2="667" y2="120.3" stroke="#333" stroke-width="0.9"/><line x1="665" y1="100" x2="669" y2="100" stroke="#333" stroke-width="0.9"/><line x1="665" y1="120.3" x2="669" y2="120.3" stroke="#333" stroke-width="0.9"/><line x1="534.4" y1="104.5" x2="534.4" y2="113.3" stroke="#333" stroke-width="0.9"/><line x1="532.4" y1="104.5" x2="536.4" y2="104.5" stroke="#333" stroke-width="0.9"/><line x1="532.4" y1="113.3" x2="536.4" y2="113.3" stroke="#333" stroke-width="0.9"/><line x1="578.7" y1="79.7" x2="578.7" y2="91.4" stroke="#333" stroke-width="0.9"/><line x1="576.7" y1="79.7" x2="580.7" y2="79.7" stroke="#333" stroke-width="0.9"/><line x1="576.7" y1="91.4" x2="580.7" y2="91.4" stroke="#333" stroke-width="0.9"/><line x1="600.8" y1="70.5" x2="600.8" y2="85.2" stroke="#333" stroke-width="0.9"/><line x1="598.8" y1="70.5" x2="602.8" y2="70.5" stroke="#333" stroke-width="0.9"/><line x1="598.8" y1="85.2" x2="602.8" y2="85.2" stroke="#333" stroke-width="0.9"/><line x1="622.7" y1="51.5" x2="622.7" y2="72" stroke="#333" stroke-width="0.9"/><line x1="620.7" y1="51.5" x2="624.7" y2="51.5" stroke="#333" stroke-width="0.9"/><line x1="620.7" y1="72" x2="624.7" y2="72" stroke="#333" stroke-width="0.9"/><line x1="645.1" y1="49.5" x2="645.1" y2="67.4" stroke="#333" stroke-width="0.9"/><line x1="643.1" y1="49.5" x2="647.1" y2="49.5" stroke="#333" stroke-width="0.9"/><line x1="643.1" y1="67.4" x2="647.1" y2="67.4" stroke="#333" stroke-width="0.9"/><line x1="667" y1="48.4" x2="667" y2="65.8" stroke="#333" stroke-width="0.9"/><line x1="665" y1="48.4" x2="669" y2="48.4" stroke="#333" stroke-width="0.9"/><line x1="665" y1="65.8" x2="669" y2="65.8" stroke="#333" stroke-width="0.9"/><rect x="487.7" y="108.5" width="5.6" height="5.6" fill="#f02020"/><rect x="509.9" y="105.1" width="5" height="5" fill="#f02020"/><rect x="531.9" y="108.8" width="5" height="5" fill="#f02020"/><rect x="554.1" y="110.2" width="5" height="5" fill="#f02020"/><rect x="576.2" y="111.2" width="5" height="5" fill="#f02020"/><rect x="598.3" y="113.9" width="5" height="5" fill="#f02020"/><rect x="620.2" y="119.0" width="5" height="5" fill="#f02020"/><rect x="642.6" y="109.6" width="5" height="5" fill="#f02020"/><rect x="664.5" y="107.7" width="5" height="5" fill="#f02020"/><rect x="488.3" y="109.1" width="4.4" height="4.4" fill="#1515ff"/><circle cx="512.4" cy="110.2" r="2.6" fill="#1515ff"/><circle cx="534.4" cy="108.6" r="2.6" fill="#1515ff"/><rect x="554.5" y="92.5" width="4.2" height="4.2" fill="#1515ff"/><circle cx="578.7" cy="85.8" r="2.6" fill="#1515ff"/><circle cx="600.8" cy="77.7" r="2.6" fill="#1515ff"/><circle cx="622.7" cy="61.3" r="2.6" fill="#1515ff"/><circle cx="645.1" cy="58.7" r="2.6" fill="#1515ff"/><circle cx="667.0" cy="56.8" r="2.6" fill="#1515ff"/><rect x="504.8" y="31" width="40.9" height="120.5" fill="url(#gz)"/><rect x="545.7" y="31" width="44.3" height="120.5" fill="url(#gz)"/><rect x="590" y="31" width="38.8" height="120.5" fill="url(#gz)"/><rect x="628.8" y="31" width="47.2" height="120.5" fill="url(#yz)"/><text x="534.4" y="125.6" font-size="7.6" font-weight="bold" text-anchor="middle" fill="#222" >ns</text><text x="578.7" y="128.0" font-size="7" font-weight="bold" text-anchor="middle" fill="#222" >**</text><text x="622.7" y="136.5" font-size="7" font-weight="bold" text-anchor="middle" fill="#222" >***</text><text x="667.0" y="127.6" font-size="7" font-weight="bold" text-anchor="middle" fill="#222" >*</text><text transform="translate(454.1,88.6) rotate(-90)" font-size="7.2" font-weight="bold" text-anchor="middle" fill="#111" textLength="121.6" lengthAdjust="spacingAndGlyphs">Fold change in Average Radiance</text>
<text x="431.8" y="210.0" font-size="12.3" font-weight="normal" text-anchor="start" fill="#111" >D</text>
<circle cx="493.2" cy="206" r="2.6" fill="#1515ff"/>
<text x="499.3" y="208.9" font-size="8.2" font-weight="bold" fill="#111" textLength="66.7" lengthAdjust="spacingAndGlyphs">S310F-Untreated</text>
<rect x="590" y="203.2" width="5" height="5" fill="#f02020"/>
<text x="598.5" y="205.2" font-size="8.2" font-weight="bold" fill="#111" textLength="83" lengthAdjust="spacingAndGlyphs">S310F-Trastuzumab-</text>
<text x="640.0" y="212.7" font-size="8.2" font-weight="bold" text-anchor="middle" fill="#111" >Treated</text>
<line x1="478.9" y1="215.5" x2="478.9" y2="326" stroke="#999" stroke-width="1"/><line x1="478.9" y1="326" x2="675.8" y2="326" stroke="#999" stroke-width="1"/><line x1="476.9" y1="216.0" x2="478.9" y2="216.0" stroke="#333" stroke-width="0.7"/><text x="475.9" y="218.2" font-size="6.6" font-weight="bold" text-anchor="end" fill="#111">10<tspan dy="-2.6" font-size="4.2">6</tspan></text><line x1="476.9" y1="229.8" x2="478.9" y2="229.8" stroke="#333" stroke-width="0.7"/><text x="475.9" y="232.0" font-size="6.6" font-weight="bold" text-anchor="end" fill="#111">10<tspan dy="-2.6" font-size="4.2">5</tspan></text><line x1="476.9" y1="243.5" x2="478.9" y2="243.5" stroke="#333" stroke-width="0.7"/><text x="475.9" y="245.7" font-size="6.6" font-weight="bold" text-anchor="end" fill="#111">10<tspan dy="-2.6" font-size="4.2">4</tspan></text><line x1="476.9" y1="257.2" x2="478.9" y2="257.2" stroke="#333" stroke-width="0.7"/><text x="475.9" y="259.5" font-size="6.6" font-weight="bold" text-anchor="end" fill="#111">10<tspan dy="-2.6" font-size="4.2">3</tspan></text><line x1="476.9" y1="271.0" x2="478.9" y2="271.0" stroke="#333" stroke-width="0.7"/><text x="475.9" y="273.2" font-size="6.6" font-weight="bold" text-anchor="end" fill="#111">10<tspan dy="-2.6" font-size="4.2">2</tspan></text><line x1="476.9" y1="284.8" x2="478.9" y2="284.8" stroke="#333" stroke-width="0.7"/><text x="475.9" y="287.0" font-size="6.6" font-weight="bold" text-anchor="end" fill="#111">10<tspan dy="-2.6" font-size="4.2">1</tspan></text><line x1="476.9" y1="298.5" x2="478.9" y2="298.5" stroke="#333" stroke-width="0.7"/><text x="475.9" y="300.7" font-size="6.6" font-weight="bold" text-anchor="end" fill="#111">10<tspan dy="-2.6" font-size="4.2">0</tspan></text><line x1="476.9" y1="312.2" x2="478.9" y2="312.2" stroke="#333" stroke-width="0.7"/><text x="475.9" y="314.5" font-size="6.6" font-weight="bold" text-anchor="end" fill="#111">10<tspan dy="-2.6" font-size="4.2">-1</tspan></text><line x1="476.9" y1="326.0" x2="478.9" y2="326.0" stroke="#333" stroke-width="0.7"/><text x="475.9" y="328.2" font-size="6.6" font-weight="bold" text-anchor="end" fill="#111">10<tspan dy="-2.6" font-size="4.2">-2</tspan></text><line x1="494.6" y1="326" x2="494.6" y2="328.2" stroke="#333" stroke-width="0.7"/><text transform="translate(498.0,333.8) rotate(-38)" font-size="7.6" font-weight="bold" text-anchor="end" fill="#111">Day 1-PI</text><line x1="518.23" y1="326" x2="518.23" y2="328.2" stroke="#333" stroke-width="0.7"/><text transform="translate(521.6,333.8) rotate(-38)" font-size="7.6" font-weight="bold" text-anchor="end" fill="#111">Day 2</text><line x1="541.86" y1="326" x2="541.86" y2="328.2" stroke="#333" stroke-width="0.7"/><text transform="translate(545.3,333.8) rotate(-38)" font-size="7.6" font-weight="bold" text-anchor="end" fill="#111">Day 8</text><line x1="565.49" y1="326" x2="565.49" y2="328.2" stroke="#333" stroke-width="0.7"/><text transform="translate(568.9,333.8) rotate(-38)" font-size="7.6" font-weight="bold" text-anchor="end" fill="#111">Day 10</text><line x1="589.12" y1="326" x2="589.12" y2="328.2" stroke="#333" stroke-width="0.7"/><text transform="translate(592.5,333.8) rotate(-38)" font-size="7.6" font-weight="bold" text-anchor="end" fill="#111">Day 16</text><line x1="612.75" y1="326" x2="612.75" y2="328.2" stroke="#333" stroke-width="0.7"/><text transform="translate(616.1,333.8) rotate(-38)" font-size="7.6" font-weight="bold" text-anchor="end" fill="#111">Day 18</text><line x1="636.38" y1="326" x2="636.38" y2="328.2" stroke="#333" stroke-width="0.7"/><text transform="translate(639.8,333.8) rotate(-38)" font-size="7.6" font-weight="bold" text-anchor="end" fill="#111">Day 22</text><line x1="660.01" y1="326" x2="660.01" y2="328.2" stroke="#333" stroke-width="0.7"/><text transform="translate(663.4,333.8) rotate(-38)" font-size="7.6" font-weight="bold" text-anchor="end" fill="#111">Day 26</text><rect x="500.8" y="324.5" width="6" height="3" fill="#fff"/><line x1="500.5" y1="330.5" x2="503.5" y2="322.5" stroke="#111" stroke-width="1.2"/><line x1="504.1" y1="330.5" x2="507.1" y2="322.5" stroke="#111" stroke-width="1.2"/><text x="530.0" y="321.8" font-size="8.2" font-weight="bold" text-anchor="middle" fill="#333" >Dose1</text><text x="576.7" y="321.8" font-size="8.2" font-weight="bold" text-anchor="middle" fill="#333" >Dose2</text><text x="623.7" y="321.8" font-size="8.2" font-weight="bold" text-anchor="middle" fill="#333" >Dose3</text><polyline points="494.6,298.4 518.5,297.4 542.0,290.0 565.4,284.0 589.0,273.4 612.9,266.6 636.6,255.0 660.0,247.2" fill="none" stroke="#f04040" stroke-width="0.8"/><polyline points="494.6,298.4 518.5,290.7 542.0,278.0 565.4,272.2 589.0,271.3 612.9,263.2 636.6,255.0 660.0,251.3" fill="none" stroke="#5050ff" stroke-width="0.8"/><line x1="518.5" y1="294.7" x2="518.5" y2="300.5" stroke="#333" stroke-width="0.9"/><line x1="516.5" y1="294.7" x2="520.5" y2="294.7" stroke="#333" stroke-width="0.9"/><line x1="516.5" y1="300.5" x2="520.5" y2="300.5" stroke="#333" stroke-width="0.9"/><line x1="542" y1="282.9" x2="542" y2="296.8" stroke="#333" stroke-width="0.9"/><line x1="540" y1="282.9" x2="544" y2="282.9" stroke="#333" stroke-width="0.9"/><line x1="540" y1="296.8" x2="544" y2="296.8" stroke="#333" stroke-width="0.9"/><line x1="565.4" y1="279" x2="565.4" y2="289" stroke="#333" stroke-width="0.9"/><line x1="563.4" y1="279" x2="567.4" y2="279" stroke="#333" stroke-width="0.9"/><line x1="563.4" y1="289" x2="567.4" y2="289" stroke="#333" stroke-width="0.9"/><line x1="589" y1="262" x2="589" y2="284" stroke="#333" stroke-width="0.9"/><line x1="587" y1="262" x2="591" y2="262" stroke="#333" stroke-width="0.9"/><line x1="587" y1="284" x2="591" y2="284" stroke="#333" stroke-width="0.9"/><line x1="612.9" y1="255.4" x2="612.9" y2="277.5" stroke="#333" stroke-width="0.9"/><line x1="610.9" y1="255.4" x2="614.9" y2="255.4" stroke="#333" stroke-width="0.9"/><line x1="610.9" y1="277.5" x2="614.9" y2="277.5" stroke="#333" stroke-width="0.9"/><line x1="636.6" y1="245" x2="636.6" y2="265" stroke="#333" stroke-width="0.9"/><line x1="634.6" y1="245" x2="638.6" y2="245" stroke="#333" stroke-width="0.9"/><line x1="634.6" y1="265" x2="638.6" y2="265" stroke="#333" stroke-width="0.9"/><line x1="660" y1="242" x2="660" y2="254" stroke="#333" stroke-width="0.9"/><line x1="658" y1="242" x2="662" y2="242" stroke="#333" stroke-width="0.9"/><line x1="658" y1="254" x2="662" y2="254" stroke="#333" stroke-width="0.9"/><line x1="518.5" y1="286.2" x2="518.5" y2="293.7" stroke="#333" stroke-width="0.9"/><line x1="516.5" y1="286.2" x2="520.5" y2="286.2" stroke="#333" stroke-width="0.9"/><line x1="516.5" y1="293.7" x2="520.5" y2="293.7" stroke="#333" stroke-width="0.9"/><line x1="542" y1="270.2" x2="542" y2="286.6" stroke="#333" stroke-width="0.9"/><line x1="540" y1="270.2" x2="544" y2="270.2" stroke="#333" stroke-width="0.9"/><line x1="540" y1="286.6" x2="544" y2="286.6" stroke="#333" stroke-width="0.9"/><line x1="565.4" y1="268" x2="565.4" y2="275.8" stroke="#333" stroke-width="0.9"/><line x1="563.4" y1="268" x2="567.4" y2="268" stroke="#333" stroke-width="0.9"/><line x1="563.4" y1="275.8" x2="567.4" y2="275.8" stroke="#333" stroke-width="0.9"/><line x1="589" y1="262" x2="589" y2="284" stroke="#333" stroke-width="0.9"/><line x1="587" y1="262" x2="591" y2="262" stroke="#333" stroke-width="0.9"/><line x1="587" y1="284" x2="591" y2="284" stroke="#333" stroke-width="0.9"/><line x1="612.9" y1="255.4" x2="612.9" y2="277.5" stroke="#333" stroke-width="0.9"/><line x1="610.9" y1="255.4" x2="614.9" y2="255.4" stroke="#333" stroke-width="0.9"/><line x1="610.9" y1="277.5" x2="614.9" y2="277.5" stroke="#333" stroke-width="0.9"/><line x1="636.6" y1="239" x2="636.6" y2="269.7" stroke="#333" stroke-width="0.9"/><line x1="634.6" y1="239" x2="638.6" y2="239" stroke="#333" stroke-width="0.9"/><line x1="634.6" y1="269.7" x2="638.6" y2="269.7" stroke="#333" stroke-width="0.9"/><line x1="660" y1="238.4" x2="660" y2="256.4" stroke="#333" stroke-width="0.9"/><line x1="658" y1="238.4" x2="662" y2="238.4" stroke="#333" stroke-width="0.9"/><line x1="658" y1="256.4" x2="662" y2="256.4" stroke="#333" stroke-width="0.9"/><rect x="491.8" y="295.6" width="5.6" height="5.6" fill="#f02020"/><rect x="516.0" y="294.9" width="5" height="5" fill="#f02020"/><rect x="539.5" y="287.5" width="5" height="5" fill="#f02020"/><rect x="562.9" y="281.5" width="5" height="5" fill="#f02020"/><rect x="586.5" y="270.9" width="5" height="5" fill="#f02020"/><rect x="610.4" y="264.1" width="5" height="5" fill="#f02020"/><rect x="634.1" y="252.5" width="5" height="5" fill="#f02020"/><rect x="657.5" y="244.7" width="5" height="5" fill="#f02020"/><rect x="492.4" y="296.2" width="4.4" height="4.4" fill="#1515ff"/><circle cx="518.5" cy="290.7" r="2.6" fill="#1515ff"/><circle cx="542.0" cy="278.0" r="2.6" fill="#1515ff"/><circle cx="565.4" cy="272.2" r="2.6" fill="#1515ff"/><circle cx="589.0" cy="271.3" r="2.6" fill="#1515ff"/><circle cx="612.9" cy="263.2" r="2.6" fill="#1515ff"/><circle cx="636.6" cy="255.0" r="2.6" fill="#1515ff"/><circle cx="660.0" cy="251.3" r="2.6" fill="#1515ff"/><rect x="511" y="214.1" width="44.2" height="111.4" fill="url(#gz)"/><rect x="555.2" y="214.1" width="45.0" height="111.4" fill="url(#gz)"/><rect x="600.2" y="214.1" width="44.8" height="111.4" fill="url(#gz)"/><text x="565.4" y="296.5" font-size="7" font-weight="bold" text-anchor="middle" fill="#222" >*</text><text x="660.0" y="265.2" font-size="7.8" font-weight="normal" text-anchor="middle" fill="#222" >ns </text><text transform="translate(455.9,268.5) rotate(-90)" font-size="8" font-weight="bold" text-anchor="middle" fill="#111" textLength="109" lengthAdjust="spacingAndGlyphs">Fold change in Average Radiance</text>
<text x="430.8" y="381.2" font-size="11.8" font-weight="normal" text-anchor="start" fill="#111" >F</text>
<circle cx="495.2" cy="377.6" r="2.6" fill="#1515ff"/>
<text x="501.3" y="380.5" font-size="8.2" font-weight="bold" fill="#111" textLength="68.2" lengthAdjust="spacingAndGlyphs">P523S-Untreated</text>
<rect x="579.7" y="375.1" width="5" height="5" fill="#f02020"/>
<text x="588.3" y="375.3" font-size="8.2" font-weight="bold" fill="#111" textLength="81.4" lengthAdjust="spacingAndGlyphs">P523S-Trastuzumab</text>
<text x="628.8" y="384.4" font-size="8.2" font-weight="bold" text-anchor="middle" fill="#111" >-Treated</text>
<line x1="478.7" y1="384.4" x2="478.7" y2="510" stroke="#555" stroke-width="1"/><line x1="478.7" y1="510" x2="678.9" y2="510" stroke="#555" stroke-width="1"/><line x1="476.7" y1="384.9" x2="478.7" y2="384.9" stroke="#333" stroke-width="0.7"/><text x="475.7" y="387.2" font-size="6.8" font-weight="bold" text-anchor="end" fill="#111">10<tspan dy="-2.7" font-size="4.3">5</tspan></text><line x1="476.7" y1="402.8" x2="478.7" y2="402.8" stroke="#333" stroke-width="0.7"/><text x="475.7" y="405.1" font-size="6.8" font-weight="bold" text-anchor="end" fill="#111">10<tspan dy="-2.7" font-size="4.3">4</tspan></text><line x1="476.7" y1="420.6" x2="478.7" y2="420.6" stroke="#333" stroke-width="0.7"/><text x="475.7" y="423.0" font-size="6.8" font-weight="bold" text-anchor="end" fill="#111">10<tspan dy="-2.7" font-size="4.3">3</tspan></text><line x1="476.7" y1="438.5" x2="478.7" y2="438.5" stroke="#333" stroke-width="0.7"/><text x="475.7" y="440.8" font-size="6.8" font-weight="bold" text-anchor="end" fill="#111">10<tspan dy="-2.7" font-size="4.3">2</tspan></text><line x1="476.7" y1="456.4" x2="478.7" y2="456.4" stroke="#333" stroke-width="0.7"/><text x="475.7" y="458.7" font-size="6.8" font-weight="bold" text-anchor="end" fill="#111">10<tspan dy="-2.7" font-size="4.3">1</tspan></text><line x1="476.7" y1="474.2" x2="478.7" y2="474.2" stroke="#333" stroke-width="0.7"/><text x="475.7" y="476.6" font-size="6.8" font-weight="bold" text-anchor="end" fill="#111">10<tspan dy="-2.7" font-size="4.3">0</tspan></text><line x1="476.7" y1="492.1" x2="478.7" y2="492.1" stroke="#333" stroke-width="0.7"/><text x="475.7" y="494.4" font-size="6.8" font-weight="bold" text-anchor="end" fill="#111">10<tspan dy="-2.7" font-size="4.3">-1</tspan></text><line x1="476.7" y1="510.0" x2="478.7" y2="510.0" stroke="#333" stroke-width="0.7"/><text x="475.7" y="512.3" font-size="6.8" font-weight="bold" text-anchor="end" fill="#111">10<tspan dy="-2.7" font-size="4.3">-2</tspan></text><line x1="496.6" y1="510" x2="496.6" y2="512.2" stroke="#333" stroke-width="0.7"/><text transform="translate(499.6,518.3) rotate(-40)" font-size="7.7" font-weight="bold" text-anchor="end" fill="#111">Day 1-PI</text><line x1="523.83" y1="510" x2="523.83" y2="512.2" stroke="#333" stroke-width="0.7"/><text transform="translate(526.8,518.3) rotate(-40)" font-size="7.7" font-weight="bold" text-anchor="end" fill="#111">Day 2</text><line x1="551.0600000000001" y1="510" x2="551.0600000000001" y2="512.2" stroke="#333" stroke-width="0.7"/><text transform="translate(554.1,518.3) rotate(-40)" font-size="7.7" font-weight="bold" text-anchor="end" fill="#111">Day 8</text><line x1="578.29" y1="510" x2="578.29" y2="512.2" stroke="#333" stroke-width="0.7"/><text transform="translate(581.3,518.3) rotate(-40)" font-size="7.7" font-weight="bold" text-anchor="end" fill="#111">Day 10</text><line x1="605.52" y1="510" x2="605.52" y2="512.2" stroke="#333" stroke-width="0.7"/><text transform="translate(608.5,518.3) rotate(-40)" font-size="7.7" font-weight="bold" text-anchor="end" fill="#111">Day 16</text><line x1="632.75" y1="510" x2="632.75" y2="512.2" stroke="#333" stroke-width="0.7"/><text transform="translate(635.8,518.3) rotate(-40)" font-size="7.7" font-weight="bold" text-anchor="end" fill="#111">Day 18</text><line x1="659.98" y1="510" x2="659.98" y2="512.2" stroke="#333" stroke-width="0.7"/><text transform="translate(663.0,518.3) rotate(-40)" font-size="7.7" font-weight="bold" text-anchor="end" fill="#111">Day 22</text><rect x="504.5" y="508.5" width="6" height="3" fill="#fff"/><line x1="504.2" y1="514.5" x2="507.2" y2="506.5" stroke="#111" stroke-width="1.2"/><line x1="507.8" y1="514.5" x2="510.8" y2="506.5" stroke="#111" stroke-width="1.2"/><text x="542.0" y="504.6" font-size="7.8" font-weight="bold" text-anchor="middle" fill="#333" >Dose1</text><text x="591.6" y="505.1" font-size="7.8" font-weight="bold" text-anchor="middle" fill="#333" >Dose2</text><text x="640.6" y="505.1" font-size="7.8" font-weight="bold" text-anchor="middle" fill="#333" >Dose3</text><polyline points="496.6,474.3 523.8,465.0 550.8,444.1 578.3,430.3 605.7,423.1 632.9,410.3 660.0,415.0" fill="none" stroke="#f04040" stroke-width="0.8"/><polyline points="496.6,474.3 523.8,467.6 550.8,454.3 578.3,442.6 605.7,423.1 632.9,420.5 660.0,419.0" fill="none" stroke="#5050ff" stroke-width="0.8"/><line x1="523.8" y1="461.5" x2="523.8" y2="470" stroke="#333" stroke-width="0.9"/><line x1="521.8" y1="461.5" x2="525.8" y2="461.5" stroke="#333" stroke-width="0.9"/><line x1="521.8" y1="470" x2="525.8" y2="470" stroke="#333" stroke-width="0.9"/><line x1="550.8" y1="437.4" x2="550.8" y2="451" stroke="#333" stroke-width="0.9"/><line x1="548.8" y1="437.4" x2="552.8" y2="437.4" stroke="#333" stroke-width="0.9"/><line x1="548.8" y1="451" x2="552.8" y2="451" stroke="#333" stroke-width="0.9"/><line x1="578.3" y1="424.2" x2="578.3" y2="437" stroke="#333" stroke-width="0.9"/><line x1="576.3" y1="424.2" x2="580.3" y2="424.2" stroke="#333" stroke-width="0.9"/><line x1="576.3" y1="437" x2="580.3" y2="437" stroke="#333" stroke-width="0.9"/><line x1="605.7" y1="415" x2="605.7" y2="431" stroke="#333" stroke-width="0.9"/><line x1="603.7" y1="415" x2="607.7" y2="415" stroke="#333" stroke-width="0.9"/><line x1="603.7" y1="431" x2="607.7" y2="431" stroke="#333" stroke-width="0.9"/><line x1="632.9" y1="400" x2="632.9" y2="420" stroke="#333" stroke-width="0.9"/><line x1="630.9" y1="400" x2="634.9" y2="400" stroke="#333" stroke-width="0.9"/><line x1="630.9" y1="420" x2="634.9" y2="420" stroke="#333" stroke-width="0.9"/><line x1="660" y1="406" x2="660" y2="424" stroke="#333" stroke-width="0.9"/><line x1="658" y1="406" x2="662" y2="406" stroke="#333" stroke-width="0.9"/><line x1="658" y1="424" x2="662" y2="424" stroke="#333" stroke-width="0.9"/><line x1="523.8" y1="461.5" x2="523.8" y2="473.1" stroke="#333" stroke-width="0.9"/><line x1="521.8" y1="461.5" x2="525.8" y2="461.5" stroke="#333" stroke-width="0.9"/><line x1="521.8" y1="473.1" x2="525.8" y2="473.1" stroke="#333" stroke-width="0.9"/><line x1="550.8" y1="451" x2="550.8" y2="457.4" stroke="#333" stroke-width="0.9"/><line x1="548.8" y1="451" x2="552.8" y2="451" stroke="#333" stroke-width="0.9"/><line x1="548.8" y1="457.4" x2="552.8" y2="457.4" stroke="#333" stroke-width="0.9"/><line x1="578.3" y1="438" x2="578.3" y2="447" stroke="#333" stroke-width="0.9"/><line x1="576.3" y1="438" x2="580.3" y2="438" stroke="#333" stroke-width="0.9"/><line x1="576.3" y1="447" x2="580.3" y2="447" stroke="#333" stroke-width="0.9"/><line x1="605.7" y1="407.8" x2="605.7" y2="438" stroke="#333" stroke-width="0.9"/><line x1="603.7" y1="407.8" x2="607.7" y2="407.8" stroke="#333" stroke-width="0.9"/><line x1="603.7" y1="438" x2="607.7" y2="438" stroke="#333" stroke-width="0.9"/><line x1="632.9" y1="396.2" x2="632.9" y2="432.3" stroke="#333" stroke-width="0.9"/><line x1="630.9" y1="396.2" x2="634.9" y2="396.2" stroke="#333" stroke-width="0.9"/><line x1="630.9" y1="432.3" x2="634.9" y2="432.3" stroke="#333" stroke-width="0.9"/><line x1="660" y1="402" x2="660" y2="428" stroke="#333" stroke-width="0.9"/><line x1="658" y1="402" x2="662" y2="402" stroke="#333" stroke-width="0.9"/><line x1="658" y1="428" x2="662" y2="428" stroke="#333" stroke-width="0.9"/><rect x="493.8" y="471.5" width="5.6" height="5.6" fill="#f02020"/><rect x="521.3" y="462.5" width="5" height="5" fill="#f02020"/><rect x="548.3" y="441.6" width="5" height="5" fill="#f02020"/><rect x="575.8" y="427.8" width="5" height="5" fill="#f02020"/><rect x="603.2" y="420.6" width="5" height="5" fill="#f02020"/><rect x="630.4" y="407.8" width="5" height="5" fill="#f02020"/><rect x="657.5" y="412.5" width="5" height="5" fill="#f02020"/><rect x="494.4" y="472.1" width="4.4" height="4.4" fill="#1515ff"/><circle cx="523.8" cy="467.6" r="2.6" fill="#1515ff"/><circle cx="550.8" cy="454.3" r="2.6" fill="#1515ff"/><circle cx="578.3" cy="442.6" r="2.6" fill="#1515ff"/><circle cx="605.7" cy="423.1" r="2.6" fill="#1515ff"/><circle cx="632.9" cy="420.5" r="2.6" fill="#1515ff"/><circle cx="660.0" cy="419.0" r="2.6" fill="#1515ff"/><rect x="517" y="389.4" width="50.0" height="120.1" fill="url(#gz)"/><rect x="567" y="389.4" width="51.2" height="120.1" fill="url(#gz)"/><rect x="618.2" y="389.4" width="51.8" height="120.1" fill="url(#gz)"/><text x="660.0" y="439.6" font-size="7.6" font-weight="bold" text-anchor="middle" fill="#222" >ns</text><text transform="translate(457.1,445.3) rotate(-90)" font-size="8.2" font-weight="bold" text-anchor="middle" fill="#111" textLength="129.5" lengthAdjust="spacingAndGlyphs">Fold change in Average Radiance</text>
<text x="1.6" y="568.6" font-size="12.6" font-weight="normal" text-anchor="start" fill="#111" >G</text>
<text x="44.6" y="570.7" font-size="11" font-weight="bold" fill="#111" textLength="36.7" lengthAdjust="spacingAndGlyphs">H2-WT</text>
<text x="106.3" y="570.7" font-size="11" font-weight="bold" fill="#111" textLength="33.4" lengthAdjust="spacingAndGlyphs">S310F</text>
<text x="158.5" y="570.7" font-size="11" font-weight="bold" fill="#111" textLength="34.4" lengthAdjust="spacingAndGlyphs">P523S</text>
<line x1="37.2" y1="575.9" x2="86.9" y2="575.9" stroke="#111" stroke-width="1.7" stroke-dasharray="1.5 1.6"/>
<line x1="95.6" y1="575.9" x2="145" y2="575.9" stroke="#111" stroke-width="1.7" stroke-dasharray="1.5 1.6"/>
<line x1="151.5" y1="575.9" x2="201" y2="575.9" stroke="#111" stroke-width="1.7" stroke-dasharray="1.5 1.6"/>
<text x="46.0" y="595.6" font-size="13.5" font-weight="bold" text-anchor="middle" fill="#111" stroke="#111" stroke-width="0.5">-</text>
<text x="75.2" y="595.6" font-size="13.5" font-weight="bold" text-anchor="middle" fill="#111" stroke="#111" stroke-width="0.5">+</text>
<text x="101.2" y="595.6" font-size="13.5" font-weight="bold" text-anchor="middle" fill="#111" stroke="#111" stroke-width="0.5">-</text>
<text x="130.8" y="595.6" font-size="13.5" font-weight="bold" text-anchor="middle" fill="#111" stroke="#111" stroke-width="0.5">+</text>
<text x="156.8" y="595.6" font-size="13.5" font-weight="bold" text-anchor="middle" fill="#111" stroke="#111" stroke-width="0.5">-</text>
<text x="186.5" y="595.6" font-size="13.5" font-weight="bold" text-anchor="middle" fill="#111" stroke="#111" stroke-width="0.5">+</text>
<text x="207.2" y="596" font-size="12.5" font-weight="bold" fill="#111" textLength="78.8" lengthAdjust="spacingAndGlyphs">Trastuzumab</text>
<rect x="34.6" y="606.3" width="167.2" height="35.7" fill="#f1f1f1" stroke="#111" stroke-width="1.2"/>
<rect x="34.6" y="642.6" width="167.2" height="36.0" fill="#f1f1f1" stroke="#111" stroke-width="1.2"/>
<rect x="34.6" y="689.2" width="167.2" height="35.8" fill="#fafafa" stroke="#111" stroke-width="1.2"/>
<rect x="34.6" y="725.6" width="167.2" height="35.4" fill="#fafafa" stroke="#111" stroke-width="1.2"/>
<rect x="39.9" y="622.0" width="26.3" height="5" rx="2.5" fill="#0a0a0a" filter="url(#bb)"/>
<rect x="71.6" y="623.7" width="18.3" height="1.6" rx="0.8" fill="#444" filter="url(#bb)"/>
<rect x="93.5" y="624.5" width="24.0" height="5" rx="2.5" fill="#0a0a0a" filter="url(#bb)"/>
<rect x="118.8" y="626.2" width="25.5" height="4.6" rx="2.3" fill="#0a0a0a" filter="url(#bb)"/>
<rect x="145.8" y="626.5" width="23.3" height="5" rx="2.5" fill="#0a0a0a" filter="url(#bb)"/>
<rect x="169.9" y="626.7" width="26.2" height="4.6" rx="2.3" fill="#0a0a0a" filter="url(#bb)"/>
<rect x="38.5" y="654.3" width="20.7" height="6.6" rx="3.3" fill="#0a0a0a" filter="url(#bb)"/>
<rect x="64.3" y="654.9" width="21.9" height="7.2" rx="3.6" fill="#0a0a0a" filter="url(#bb)"/>
<rect x="90.6" y="656.4" width="21.9" height="6.8" rx="3.4" fill="#0a0a0a" filter="url(#bb)"/>
<rect x="118.8" y="659.0" width="19.7" height="6" rx="3.0" fill="#0a0a0a" filter="url(#bb)"/>
<rect x="148.2" y="661.4" width="19.9" height="4.8" rx="2.4" fill="#0a0a0a" filter="url(#bb)"/>
<rect x="174.2" y="661.3" width="20.5" height="6" rx="3.0" fill="#0a0a0a" filter="url(#bb)"/>
<rect x="38" y="705.6" width="23.4" height="4.7" rx="2.4" fill="#0a0a0a" filter="url(#bb)"/>
<rect x="63.6" y="706.2" width="23.3" height="5.2" rx="2.6" fill="#0a0a0a" filter="url(#bb)"/>
<rect x="92" y="705.1" width="21.2" height="4.5" rx="2.2" fill="#0a0a0a" filter="url(#bb)"/>
<rect x="117.3" y="705.1" width="20.4" height="5" rx="2.5" fill="#0a0a0a" filter="url(#bb)"/>
<rect x="138.5" y="706.1" width="24.8" height="6.2" rx="3.1" fill="#0a0a0a" filter="url(#bb)"/>
<rect x="164.3" y="706.0" width="26.0" height="5.6" rx="2.8" fill="#0a0a0a" filter="url(#bb)"/>
<rect x="39.9" y="745.1" width="18.6" height="5.4" rx="2.7" fill="#0a0a0a" filter="url(#bb)"/>
<rect x="65.8" y="745.0" width="19.7" height="5" rx="2.5" fill="#0a0a0a" filter="url(#bb)"/>
<rect x="90.1" y="744.7" width="19.9" height="5" rx="2.5" fill="#0a0a0a" filter="url(#bb)"/>
<rect x="116.6" y="744.0" width="19.7" height="5" rx="2.5" fill="#0a0a0a" filter="url(#bb)"/>
<rect x="140.4" y="743.0" width="22.2" height="7" rx="3.5" fill="#0a0a0a" filter="url(#bb)"/>
<rect x="166.2" y="741.8" width="21.9" height="7.4" rx="3.7" fill="#0a0a0a" filter="url(#bb)"/>
<text x="210.6" y="630.6" font-size="12.3" font-weight="bold" fill="#111" textLength="45.4" lengthAdjust="spacingAndGlyphs">p-HER2</text>
<text x="210.6" y="667.4" font-size="12.3" font-weight="bold" fill="#111" textLength="60.4" lengthAdjust="spacingAndGlyphs">pan-HER2</text>
<text x="210.6" y="712" font-size="12.3" font-weight="bold" fill="#111" textLength="45.7" lengthAdjust="spacingAndGlyphs">p-HER3</text>
<text x="210.6" y="750" font-size="12.3" font-weight="bold" fill="#111" textLength="61" lengthAdjust="spacingAndGlyphs">pan-HER3</text>
<text x="312.0" y="567.0" font-size="10.5" font-weight="bold" text-anchor="start" fill="#111" >H</text>
<text transform="translate(333,657.5) rotate(-90)" font-size="10.5" font-weight="bold" text-anchor="middle" fill="#111" textLength="162" lengthAdjust="spacingAndGlyphs">Average Radiance (p/s/cm<tspan dy="-3.5" font-size="7">2</tspan><tspan dy="3.5">/sr)</tspan></text>
<line x1="372" y1="583.9" x2="372" y2="622.9" stroke="#222" stroke-width="0.9"/>
<line x1="372" y1="628.8" x2="372" y2="737" stroke="#222" stroke-width="0.9"/>
<line x1="372" y1="737" x2="664" y2="737" stroke="#222" stroke-width="0.9"/>
<line x1="391.4" y1="737" x2="391.4" y2="740.4" stroke="#222" stroke-width="0.8"/>
<line x1="427.6" y1="737" x2="427.6" y2="740.4" stroke="#222" stroke-width="0.8"/>
<line x1="463.8" y1="737" x2="463.8" y2="740.4" stroke="#222" stroke-width="0.8"/>
<line x1="499.9" y1="737" x2="499.9" y2="740.4" stroke="#222" stroke-width="0.8"/>
<line x1="535.7" y1="737" x2="535.7" y2="740.4" stroke="#222" stroke-width="0.8"/>
<line x1="571.8" y1="737" x2="571.8" y2="740.4" stroke="#222" stroke-width="0.8"/>
<line x1="607.8" y1="737" x2="607.8" y2="740.4" stroke="#222" stroke-width="0.8"/>
<line x1="643.8" y1="737" x2="643.8" y2="740.4" stroke="#222" stroke-width="0.8"/>
<line x1="369.5" y1="583.9" x2="372" y2="583.9" stroke="#222" stroke-width="0.8"/><text x="368.8" y="587.5" font-size="10.2" font-weight="bold" text-anchor="end" fill="#111" textLength="29.6" lengthAdjust="spacingAndGlyphs">4×10<tspan dy="-3.8" font-size="6.5">8</tspan></text>
<line x1="369.5" y1="594.2" x2="372" y2="594.2" stroke="#222" stroke-width="0.8"/><text x="368.8" y="597.8" font-size="10.2" font-weight="bold" text-anchor="end" fill="#111" textLength="29.6" lengthAdjust="spacingAndGlyphs">3×10<tspan dy="-3.8" font-size="6.5">8</tspan></text>
<line x1="369.5" y1="604.5" x2="372" y2="604.5" stroke="#222" stroke-width="0.8"/><text x="368.8" y="608.1" font-size="10.2" font-weight="bold" text-anchor="end" fill="#111" textLength="29.6" lengthAdjust="spacingAndGlyphs">2×10<tspan dy="-3.8" font-size="6.5">8</tspan></text>
<line x1="369.5" y1="614.7" x2="372" y2="614.7" stroke="#222" stroke-width="0.8"/><text x="368.8" y="618.3" font-size="10.2" font-weight="bold" text-anchor="end" fill="#111" textLength="29.6" lengthAdjust="spacingAndGlyphs">1×10<tspan dy="-3.8" font-size="6.5">8</tspan></text>
<line x1="369.5" y1="637.6" x2="372" y2="637.6" stroke="#222" stroke-width="0.8"/><text x="368.8" y="641.2" font-size="10.2" font-weight="bold" text-anchor="end" fill="#111" textLength="29.6" lengthAdjust="spacingAndGlyphs">8×10<tspan dy="-3.8" font-size="6.5">6</tspan></text>
<line x1="369.5" y1="652.1" x2="372" y2="652.1" stroke="#222" stroke-width="0.8"/><text x="368.8" y="655.7" font-size="10.2" font-weight="bold" text-anchor="end" fill="#111" textLength="29.6" lengthAdjust="spacingAndGlyphs">6×10<tspan dy="-3.8" font-size="6.5">6</tspan></text>
<line x1="369.5" y1="668" x2="372" y2="668" stroke="#222" stroke-width="0.8"/><text x="368.8" y="671.6" font-size="10.2" font-weight="bold" text-anchor="end" fill="#111" textLength="29.6" lengthAdjust="spacingAndGlyphs">4×10<tspan dy="-3.8" font-size="6.5">6</tspan></text>
<line x1="369.5" y1="683.2" x2="372" y2="683.2" stroke="#222" stroke-width="0.8"/><text x="368.8" y="686.8" font-size="10.2" font-weight="bold" text-anchor="end" fill="#111" textLength="29.6" lengthAdjust="spacingAndGlyphs">2×10<tspan dy="-3.8" font-size="6.5">6</tspan></text>
<line x1="369.5" y1="699.6" x2="372" y2="699.6" stroke="#222" stroke-width="0.8"/><text x="368.6" y="703.2" font-size="10" font-weight="bold" text-anchor="end" fill="#111" textLength="29.4" lengthAdjust="spacingAndGlyphs">30000</text>
<line x1="369.5" y1="713.6" x2="372" y2="713.6" stroke="#222" stroke-width="0.8"/><text x="368.6" y="717.2" font-size="10" font-weight="bold" text-anchor="end" fill="#111" textLength="29.4" lengthAdjust="spacingAndGlyphs">20000</text>
<line x1="369.5" y1="726.4" x2="372" y2="726.4" stroke="#222" stroke-width="0.8"/><text x="368.6" y="730.0" font-size="10" font-weight="bold" text-anchor="end" fill="#111" textLength="29.4" lengthAdjust="spacingAndGlyphs">10000</text>
<line x1="369.5" y1="622.9" x2="372" y2="622.9" stroke="#222" stroke-width="0.8"/>
<line x1="369.5" y1="628.8" x2="374" y2="628.8" stroke="#222" stroke-width="0.8"/>
<line x1="369" y1="698.6" x2="375" y2="698.6" stroke="#222" stroke-width="0.6"/><line x1="369" y1="700.6" x2="375" y2="700.6" stroke="#222" stroke-width="0.6"/>
<rect x="376.2" y="628.8" width="6.6" height="108.2" fill="#1a1aff" stroke="#111" stroke-width="0.9"/>
<rect x="384.4" y="698" width="6.3" height="39.0" fill="#40dd40" stroke="#111" stroke-width="0.9"/>
<rect x="392.1" y="693.7" width="7.0" height="43.3" fill="#ff2020" stroke="#111" stroke-width="0.9"/>
<rect x="400.3" y="729.2" width="6.8" height="7.8" fill="#c040f0" stroke="#111" stroke-width="0.9"/>
<rect x="483.9" y="629" width="7.7" height="108.0" fill="#1a1aff" stroke="#111" stroke-width="0.9"/>
<rect x="492.4" y="698.4" width="6.2" height="38.6" fill="#40dd40" stroke="#111" stroke-width="0.9"/>
<rect x="499.9" y="682.9" width="7.2" height="54.1" fill="#ff2020" stroke="#111" stroke-width="0.9"/>
<rect x="507.9" y="724.3" width="7.2" height="12.7" fill="#c040f0" stroke="#111" stroke-width="0.9"/>
<rect x="520.5" y="699.5" width="6.7" height="37.5" fill="#1a1aff" stroke="#111" stroke-width="0.9"/>
<rect x="592.3" y="629" width="7.4" height="108.0" fill="#1a1aff" stroke="#111" stroke-width="0.9"/>
<rect x="600.5" y="695.5" width="6.7" height="41.5" fill="#40dd40" stroke="#111" stroke-width="0.9"/>
<rect x="608.6" y="654" width="7.2" height="83.0" fill="#ff2020" stroke="#111" stroke-width="0.9"/>
<rect x="617.1" y="699.5" width="6.7" height="37.5" fill="#c040f0" stroke="#111" stroke-width="0.9"/>
<rect x="628.3" y="629" width="7.5" height="108.0" fill="#1a1aff" stroke="#111" stroke-width="0.9"/>
<rect x="636.6" y="694.4" width="6.7" height="42.6" fill="#40dd40" stroke="#111" stroke-width="0.9"/>
<rect x="644.6" y="654.9" width="7.3" height="82.1" fill="#ff2020" stroke="#111" stroke-width="0.9"/>
<rect x="653.2" y="699.5" width="6.7" height="37.5" fill="#c040f0" stroke="#111" stroke-width="0.9"/>
<rect x="592.3" y="619.6" width="7.4" height="4" fill="#1a1aff" stroke="#222" stroke-width="0.7"/>
<rect x="628.3" y="619.6" width="7.5" height="4" fill="#1a1aff" stroke="#222" stroke-width="0.7"/>
<line x1="379.5" y1="620.6" x2="379.5" y2="623.5" stroke="#333" stroke-width="0.6"/><line x1="377.9" y1="620.6" x2="381.1" y2="620.6" stroke="#333" stroke-width="0.6"/>
<line x1="395.6" y1="691" x2="395.6" y2="694" stroke="#333" stroke-width="0.6"/><line x1="394.0" y1="691" x2="397.20000000000005" y2="691" stroke="#333" stroke-width="0.6"/>
<line x1="403.7" y1="716.4" x2="403.7" y2="729" stroke="#333" stroke-width="0.6"/><line x1="402.09999999999997" y1="716.4" x2="405.3" y2="716.4" stroke="#333" stroke-width="0.6"/>
<line x1="387.5" y1="697" x2="387.5" y2="698" stroke="#333" stroke-width="0.6"/><line x1="385.9" y1="697" x2="389.1" y2="697" stroke="#333" stroke-width="0.6"/>
<line x1="487.7" y1="618.8" x2="487.7" y2="623.6" stroke="#333" stroke-width="0.6"/><line x1="486.09999999999997" y1="618.8" x2="489.3" y2="618.8" stroke="#333" stroke-width="0.6"/>
<line x1="503.5" y1="675.4" x2="503.5" y2="683" stroke="#333" stroke-width="0.6"/><line x1="501.9" y1="675.4" x2="505.1" y2="675.4" stroke="#333" stroke-width="0.6"/>
<line x1="511.5" y1="720.9" x2="511.5" y2="724.3" stroke="#333" stroke-width="0.6"/><line x1="509.9" y1="720.9" x2="513.1" y2="720.9" stroke="#333" stroke-width="0.6"/>
<line x1="495.5" y1="697.5" x2="495.5" y2="698.4" stroke="#333" stroke-width="0.6"/><line x1="493.9" y1="697.5" x2="497.1" y2="697.5" stroke="#333" stroke-width="0.6"/>
<line x1="523.8" y1="698.6" x2="523.8" y2="699.5" stroke="#333" stroke-width="0.6"/><line x1="522.1999999999999" y1="698.6" x2="525.4" y2="698.6" stroke="#333" stroke-width="0.6"/>
<line x1="596" y1="604.9" x2="596" y2="619.6" stroke="#333" stroke-width="0.6"/><line x1="594.4" y1="604.9" x2="597.6" y2="604.9" stroke="#333" stroke-width="0.6"/>
<line x1="612.2" y1="636.2" x2="612.2" y2="654" stroke="#333" stroke-width="0.6"/><line x1="610.6" y1="636.2" x2="613.8000000000001" y2="636.2" stroke="#333" stroke-width="0.6"/>
<line x1="620.4" y1="698.6" x2="620.4" y2="699.5" stroke="#333" stroke-width="0.6"/><line x1="618.8" y1="698.6" x2="622.0" y2="698.6" stroke="#333" stroke-width="0.6"/>
<line x1="603.8" y1="693.5" x2="603.8" y2="695.5" stroke="#333" stroke-width="0.6"/><line x1="602.1999999999999" y1="693.5" x2="605.4" y2="693.5" stroke="#333" stroke-width="0.6"/>
<line x1="632" y1="604.1" x2="632" y2="619.6" stroke="#333" stroke-width="0.6"/><line x1="630.4" y1="604.1" x2="633.6" y2="604.1" stroke="#333" stroke-width="0.6"/>
<line x1="648.2" y1="637.5" x2="648.2" y2="654.9" stroke="#333" stroke-width="0.6"/><line x1="646.6" y1="637.5" x2="649.8000000000001" y2="637.5" stroke="#333" stroke-width="0.6"/>
<line x1="656.5" y1="698.6" x2="656.5" y2="699.5" stroke="#333" stroke-width="0.6"/><line x1="654.9" y1="698.6" x2="658.1" y2="698.6" stroke="#333" stroke-width="0.6"/>
<line x1="640" y1="692.5" x2="640" y2="694.4" stroke="#333" stroke-width="0.6"/><line x1="638.4" y1="692.5" x2="641.6" y2="692.5" stroke="#333" stroke-width="0.6"/>
<line x1="379.5" y1="629" x2="379.5" y2="678.5" stroke="#111" stroke-width="0.6"/>
<line x1="487.7" y1="629" x2="487.7" y2="669" stroke="#111" stroke-width="0.6"/>
<line x1="612.2" y1="654" x2="612.2" y2="666.9" stroke="#111" stroke-width="0.6"/><line x1="610.6" y1="666.9" x2="613.8" y2="666.9" stroke="#111" stroke-width="0.6"/>
<line x1="648.2" y1="655" x2="648.2" y2="667" stroke="#111" stroke-width="0.6"/><line x1="646.6" y1="667" x2="649.8" y2="667" stroke="#111" stroke-width="0.6"/>
<line x1="403.7" y1="729" x2="403.7" y2="733" stroke="#111" stroke-width="0.6"/>
<line x1="372.5" y1="699.4" x2="408" y2="699.4" stroke="#fff" stroke-width="1.4"/>
<line x1="483" y1="699.4" x2="528" y2="699.4" stroke="#fff" stroke-width="1.4"/>
<line x1="591.5" y1="699.4" x2="661" y2="699.4" stroke="#fff" stroke-width="1.4"/>
<text x="408.6" y="576.2" font-size="10.2" font-weight="bold" text-anchor="middle" fill="#111" >H2-WT</text>
<text x="512.8" y="578.6" font-size="10.2" font-weight="bold" text-anchor="middle" fill="#111" >S310F</text>
<text x="627.2" y="576.3" font-size="10.2" font-weight="bold" text-anchor="middle" fill="#111" >P523S</text>
<line x1="375.8" y1="597.2" x2="409" y2="597.2" stroke="#222" stroke-width="0.8"/><line x1="375.8" y1="595.0" x2="375.8" y2="599.4000000000001" stroke="#222" stroke-width="0.8"/><line x1="409" y1="595.0" x2="409" y2="599.4000000000001" stroke="#222" stroke-width="0.8"/>
<line x1="410.1" y1="597.2" x2="439.8" y2="597.2" stroke="#222" stroke-width="0.8"/><line x1="410.1" y1="595.0" x2="410.1" y2="599.4000000000001" stroke="#222" stroke-width="0.8"/><line x1="439.8" y1="595.0" x2="439.8" y2="599.4000000000001" stroke="#222" stroke-width="0.8"/>
<text x="392.6" y="594.8" font-size="7.8" font-weight="bold" text-anchor="middle" fill="#111" >UT</text>
<text x="425.3" y="594.8" font-size="7.8" font-weight="bold" text-anchor="middle" fill="#111" >TR</text>
<line x1="481.2" y1="596.1" x2="513.3" y2="596.1" stroke="#222" stroke-width="0.8"/><line x1="481.2" y1="593.9" x2="481.2" y2="598.3000000000001" stroke="#222" stroke-width="0.8"/><line x1="513.3" y1="593.9" x2="513.3" y2="598.3000000000001" stroke="#222" stroke-width="0.8"/>
<line x1="516" y1="596.1" x2="546.4" y2="596.1" stroke="#222" stroke-width="0.8"/><line x1="516" y1="593.9" x2="516" y2="598.3000000000001" stroke="#222" stroke-width="0.8"/><line x1="546.4" y1="593.9" x2="546.4" y2="598.3000000000001" stroke="#222" stroke-width="0.8"/>
<text x="497.8" y="593.7" font-size="7.8" font-weight="bold" text-anchor="middle" fill="#111" >UT</text>
<text x="532.0" y="593.7" font-size="7.8" font-weight="bold" text-anchor="middle" fill="#111" >TR</text>
<line x1="592.5" y1="594.7" x2="623.3" y2="594.7" stroke="#222" stroke-width="0.8"/><line x1="592.5" y1="592.5" x2="592.5" y2="596.9000000000001" stroke="#222" stroke-width="0.8"/><line x1="623.3" y1="592.5" x2="623.3" y2="596.9000000000001" stroke="#222" stroke-width="0.8"/>
<line x1="627.3" y1="594.7" x2="656.7" y2="594.7" stroke="#222" stroke-width="0.8"/><line x1="627.3" y1="592.5" x2="627.3" y2="596.9000000000001" stroke="#222" stroke-width="0.8"/><line x1="656.7" y1="592.5" x2="656.7" y2="596.9000000000001" stroke="#222" stroke-width="0.8"/>
<text x="608.3" y="592.3" font-size="7.8" font-weight="bold" text-anchor="middle" fill="#111" >UT</text>
<text x="643.0" y="592.3" font-size="7.8" font-weight="bold" text-anchor="middle" fill="#111" >TR</text>
<rect x="372.7" y="748.8" width="7.0" height="9.6" fill="#1a1aff" stroke="#111" stroke-width="0.9"/>
<text x="384.4" y="757.8" font-size="10.8" font-weight="bold" fill="#111" textLength="32.7" lengthAdjust="spacingAndGlyphs">Lungs</text>
<rect x="467" y="748.8" width="7.2" height="9.6" fill="#40dd40" stroke="#111" stroke-width="0.9"/>
<text x="479.6" y="757.8" font-size="10.8" font-weight="bold" fill="#111" textLength="26.2" lengthAdjust="spacingAndGlyphs">Liver</text>
<rect x="545.3" y="748.8" width="6.4" height="9.6" fill="#ff2020" stroke="#111" stroke-width="0.9"/>
<text x="556" y="757.8" font-size="10.8" font-weight="bold" fill="#111" textLength="29" lengthAdjust="spacingAndGlyphs">Bone</text>
<rect x="616.3" y="748.8" width="6.2" height="9.6" fill="#c040f0" stroke="#111" stroke-width="0.9"/>
<text x="627.8" y="757.8" font-size="10.8" font-weight="bold" fill="#111" textLength="28.1" lengthAdjust="spacingAndGlyphs">Brain</text>
</svg></body></html>
